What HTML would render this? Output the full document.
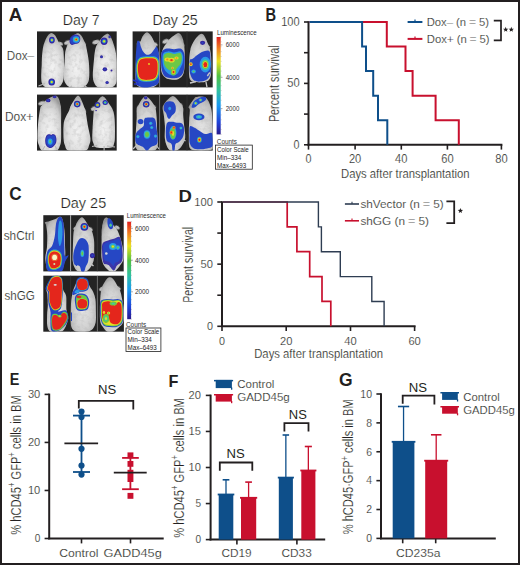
<!DOCTYPE html>
<html><head><meta charset="utf-8"><style>
html,body{margin:0;padding:0;background:#fff;}
#fig{position:relative;width:520px;height:565px;overflow:hidden;background:#fff;}
#fig svg{position:absolute;left:0;top:0;}
#frame{position:absolute;left:0;top:0;width:520px;height:565px;box-sizing:border-box;border:2px solid #231f20;}
text{font-family:"Liberation Sans",sans-serif;}
text.t{stroke:#fff;stroke-width:0.2px;}
</style></head><body>
<div id="fig">
<svg width="520" height="565" viewBox="0 0 520 565">
<defs>
<radialGradient id="mg" cx="50%" cy="64%" r="64%">
<stop offset="0" stop-color="#f2f2f2"/><stop offset="0.5" stop-color="#e3e3e3"/><stop offset="0.8" stop-color="#cbcbcb"/><stop offset="1" stop-color="#9a9a9a"/>
</radialGradient>
<radialGradient id="mg2" cx="50%" cy="60%" r="62%">
<stop offset="0" stop-color="#e4e4e4"/><stop offset="0.55" stop-color="#d2d2d2"/><stop offset="0.85" stop-color="#bcbcbc"/><stop offset="1" stop-color="#929292"/>
</radialGradient>
<filter id="bm" x="-20%" y="-20%" width="140%" height="140%"><feGaussianBlur in="SourceGraphic" stdDeviation="0.55" result="b"/>
<feTurbulence type="fractalNoise" baseFrequency="0.22" numOctaves="3" seed="7" result="n"/>
<feColorMatrix in="n" type="matrix" values="0 0 0 0 0.45  0 0 0 0 0.45  0 0 0 0 0.45  0 0 0 -1.2 0.66" result="na"/>
<feComposite in="na" in2="b" operator="in" result="nm"/>
<feMerge><feMergeNode in="b"/><feMergeNode in="nm"/></feMerge></filter>
<filter id="be" x="-40%" y="-40%" width="180%" height="180%"><feGaussianBlur stdDeviation="0.5"/></filter>
<filter id="bh" x="-30%" y="-30%" width="160%" height="160%"><feGaussianBlur stdDeviation="0.6"/></filter>
<clipPath id="cA1"><rect x="37" y="31.4" width="79.7" height="56"/></clipPath>
<clipPath id="cA2"><rect x="37" y="94.6" width="79.7" height="56"/></clipPath>
<clipPath id="cA3"><rect x="132.6" y="31.4" width="80.1" height="56"/></clipPath>
<clipPath id="cA4"><rect x="132.6" y="94.6" width="80.1" height="56"/></clipPath>
<clipPath id="cC1"><rect x="43.3" y="215.2" width="80.4" height="56.2"/></clipPath>
<clipPath id="cC2"><rect x="43.3" y="275.7" width="80.6" height="56"/></clipPath>
</defs>
<rect x="37" y="31.4" width="79.7" height="56.00000000000001" fill="#232323"/>
<g clip-path="url(#cA1)">
<ellipse cx="60.3" cy="43.8" rx="2.8" ry="1.8" transform="rotate(20 60.3 43.8)" fill="#c2c2c2" filter="url(#be)"/>
<path d="M51.40,33.00 C52.47,33.00 53.75,34.00 54.70,35.00 C55.65,36.00 56.28,37.50 57.10,39.00 C57.92,40.50 58.67,42.50 59.60,44.00 C60.53,45.50 62.02,46.33 62.70,48.00 C63.38,49.67 63.48,51.17 63.70,54.00 C63.92,56.83 64.00,61.03 64.00,65.00 C64.00,68.97 64.08,74.63 63.70,77.80 C63.32,80.97 62.78,82.37 61.70,84.00 C60.62,85.63 59.68,87.00 57.20,87.60 C54.72,88.20 49.28,88.20 46.80,87.60 C44.32,87.00 43.23,85.63 42.30,84.00 C41.37,82.37 41.30,80.97 41.20,77.80 C41.10,74.63 41.57,68.63 41.70,65.00 C41.83,61.37 41.82,58.67 42.00,56.00 C42.18,53.33 42.48,51.00 42.80,49.00 C43.12,47.00 43.38,45.67 43.90,44.00 C44.42,42.33 45.17,40.50 45.90,39.00 C46.63,37.50 47.38,36.00 48.30,35.00 C49.22,34.00 50.33,33.00 51.40,33.00Z" fill="url(#mg)" filter="url(#bm)"/>
<path d="M38.5,86 L45,83.5" stroke="#b8b8b8" stroke-width="1.2" filter="url(#be)"/>
<ellipse cx="67.6" cy="42.6" rx="3.5" ry="2.0" transform="rotate(-20 67.6 42.6)" fill="#c2c2c2" filter="url(#be)"/>
<ellipse cx="83.6" cy="43.8" rx="2.2" ry="1.6" transform="rotate(30 83.6 43.8)" fill="#c2c2c2" filter="url(#be)"/>
<path d="M78.00,33.20 C79.06,33.37 80.33,34.45 81.23,35.50 C82.14,36.55 82.70,38.08 83.43,39.50 C84.15,40.92 85.03,42.42 85.58,44.00 C86.12,45.58 86.16,46.03 86.70,49.00 C87.24,51.97 88.37,57.37 88.80,61.80 C89.23,66.23 89.48,72.07 89.30,75.60 C89.12,79.13 88.88,81.00 87.70,83.00 C86.52,85.00 85.02,86.83 82.20,87.60 C79.38,88.37 73.62,88.37 70.80,87.60 C67.98,86.83 66.50,85.00 65.30,83.00 C64.10,81.00 63.72,79.13 63.60,75.60 C63.48,72.07 64.32,65.73 64.60,61.80 C64.88,57.87 64.85,54.80 65.30,52.00 C65.75,49.20 66.67,46.83 67.32,45.00 C67.97,43.17 68.51,42.25 69.22,41.00 C69.93,39.75 70.63,38.58 71.57,37.50 C72.51,36.42 73.80,35.22 74.87,34.50 C75.94,33.78 76.94,33.03 78.00,33.20Z" fill="url(#mg)" filter="url(#bm)"/>
<path d="M72,86 L69,88 M84,85.5 L88,88" stroke="#b8b8b8" stroke-width="1.1" filter="url(#be)"/>
<ellipse cx="96.0" cy="42.0" rx="3.7" ry="2.1" transform="rotate(-15 96.0 42.0)" fill="#c2c2c2" filter="url(#be)"/>
<path d="M107.80,33.70 C108.69,33.87 109.51,34.95 110.23,36.00 C110.95,37.05 111.47,38.33 112.13,40.00 C112.79,41.67 113.61,44.00 114.20,46.00 C114.80,48.00 115.23,49.37 115.70,52.00 C116.17,54.63 116.77,57.87 117.00,61.80 C117.23,65.73 117.23,72.07 117.10,75.60 C116.97,79.13 117.18,81.00 116.20,83.00 C115.22,85.00 114.10,86.83 111.20,87.60 C108.30,88.37 101.62,88.37 98.80,87.60 C95.98,86.83 95.30,85.00 94.30,83.00 C93.30,81.00 92.88,79.13 92.80,75.60 C92.72,72.07 93.47,65.73 93.80,61.80 C94.13,57.87 94.38,54.63 94.80,52.00 C95.22,49.37 95.56,47.75 96.30,46.00 C97.04,44.25 98.34,42.83 99.22,41.50 C100.10,40.17 100.63,39.08 101.57,38.00 C102.51,36.92 103.83,35.72 104.87,35.00 C105.91,34.28 106.91,33.53 107.80,33.70Z" fill="url(#mg)" filter="url(#bm)"/>
<ellipse cx="51.9" cy="40.1" rx="2.90" ry="3.40" fill="#34289e" filter="url(#bh)"/>
<ellipse cx="51.9" cy="40.1" rx="1.92" ry="2.25" fill="#2846c4" filter="url(#bh)"/>
<ellipse cx="51.9" cy="40.1" rx="1.46" ry="1.72" fill="#2a9ae6" filter="url(#bh)"/>
<ellipse cx="51.9" cy="40.1" rx="1.10" ry="1.29" fill="#6cc844" filter="url(#bh)"/>
<ellipse cx="51.9" cy="40.1" rx="0.80" ry="0.93" fill="#e6dc28" filter="url(#bh)"/>
<ellipse cx="51.7" cy="82.0" rx="3.30" ry="3.60" fill="#34289e" filter="url(#bh)"/>
<ellipse cx="51.7" cy="82.0" rx="2.18" ry="2.38" fill="#2846c4" filter="url(#bh)"/>
<ellipse cx="51.7" cy="82.0" rx="1.67" ry="1.82" fill="#2a9ae6" filter="url(#bh)"/>
<ellipse cx="51.7" cy="82.0" rx="1.26" ry="1.37" fill="#6cc844" filter="url(#bh)"/>
<ellipse cx="51.7" cy="82.0" rx="0.91" ry="0.99" fill="#e6dc28" filter="url(#bh)"/>
<path d="M72.00,35.80 C73.05,35.07 74.75,34.53 76.00,34.60 C77.25,34.67 78.80,35.30 79.50,36.20 C80.20,37.10 80.37,38.87 80.20,40.00 C80.03,41.13 79.37,42.33 78.50,43.00 C77.63,43.67 76.08,43.68 75.00,44.00 C73.92,44.32 72.85,45.07 72.00,44.90 C71.15,44.73 70.28,43.98 69.90,43.00 C69.52,42.02 69.35,40.20 69.70,39.00 C70.05,37.80 70.95,36.53 72.00,35.80Z" fill="#34289e" filter="url(#bh)" />
<path d="M72.40,36.40 C73.33,35.78 74.90,35.23 76.00,35.30 C77.10,35.37 78.42,36.02 79.00,36.80 C79.58,37.58 79.67,39.05 79.50,40.00 C79.33,40.95 78.75,41.95 78.00,42.50 C77.25,43.05 75.95,43.03 75.00,43.30 C74.05,43.57 73.05,44.22 72.30,44.10 C71.55,43.98 70.82,43.45 70.50,42.60 C70.18,41.75 70.08,40.03 70.40,39.00 C70.72,37.97 71.47,37.02 72.40,36.40Z" fill="#2846c4" filter="url(#bh)" />
<ellipse cx="76.2" cy="39.5" rx="3.40" ry="3.20" fill="#2a9ae6" filter="url(#bh)"/>
<ellipse cx="76.2" cy="39.5" rx="2.25" ry="2.12" fill="#40c4b0" filter="url(#bh)"/>
<ellipse cx="76.2" cy="39.5" rx="1.72" ry="1.61" fill="#6cc844" filter="url(#bh)"/>
<ellipse cx="76.2" cy="39.5" rx="1.29" ry="1.22" fill="#e6dc28" filter="url(#bh)"/>
<ellipse cx="76.2" cy="39.5" rx="0.93" ry="0.88" fill="#e4261e" filter="url(#bh)"/>
<ellipse cx="104.1" cy="41.3" rx="3.50" ry="3.70" fill="#34289e" filter="url(#bh)"/>
<ellipse cx="104.1" cy="41.3" rx="2.32" ry="2.45" fill="#2846c4" filter="url(#bh)"/>
<ellipse cx="104.1" cy="41.3" rx="1.77" ry="1.87" fill="#2a9ae6" filter="url(#bh)"/>
<ellipse cx="104.1" cy="41.3" rx="1.33" ry="1.41" fill="#6cc844" filter="url(#bh)"/>
<ellipse cx="104.1" cy="41.3" rx="0.96" ry="1.02" fill="#e6dc28" filter="url(#bh)"/>
<ellipse cx="109.6" cy="36.9" rx="1.20" ry="1.30" fill="#34289e" filter="url(#bh)"/>
<ellipse cx="109.6" cy="36.9" rx="0.53" ry="0.57" fill="#2846c4" filter="url(#bh)"/>
<ellipse cx="101.5" cy="56.8" rx="1.50" ry="1.50" fill="#34289e" filter="url(#bh)"/>
<ellipse cx="101.5" cy="56.8" rx="0.66" ry="0.66" fill="#2846c4" filter="url(#bh)"/>
<ellipse cx="104.9" cy="69.3" rx="2.30" ry="2.10" fill="#34289e" filter="url(#bh)"/>
<ellipse cx="104.9" cy="69.3" rx="1.01" ry="0.92" fill="#2846c4" filter="url(#bh)"/>
<ellipse cx="111.5" cy="70.6" rx="1.00" ry="1.00" fill="#34289e" filter="url(#bh)"/>
<ellipse cx="107.1" cy="82.5" rx="1.70" ry="1.60" fill="#34289e" filter="url(#bh)"/>
<ellipse cx="107.1" cy="82.5" rx="0.75" ry="0.70" fill="#2846c4" filter="url(#bh)"/>
</g>
<rect x="37" y="94.6" width="79.7" height="56.0" fill="#232323"/>
<g clip-path="url(#cA2)">
<ellipse cx="41.8" cy="103.2" rx="3.5" ry="1.9" transform="rotate(-15 41.8 103.2)" fill="#c2c2c2" filter="url(#be)"/>
<path d="M56.20,95.70 C57.07,95.90 57.63,96.70 58.18,97.50 C58.73,98.30 59.12,99.42 59.48,100.50 C59.84,101.58 60.06,102.60 60.33,104.00 C60.60,105.40 60.97,105.43 61.10,108.90 C61.23,112.37 61.10,119.85 61.10,124.80 C61.10,129.75 61.25,135.23 61.10,138.60 C60.95,141.97 61.02,142.97 60.20,145.00 C59.38,147.03 59.10,149.83 56.20,150.80 C53.30,151.77 45.70,151.77 42.80,150.80 C39.90,149.83 39.68,147.03 38.80,145.00 C37.92,142.97 37.63,141.97 37.50,138.60 C37.37,135.23 37.57,129.75 38.00,124.80 C38.43,119.85 39.42,112.20 40.10,108.90 C40.78,105.60 41.24,106.32 42.07,105.00 C42.90,103.68 43.96,102.08 45.07,101.00 C46.18,99.92 47.41,99.28 48.72,98.50 C50.03,97.72 51.69,96.77 52.94,96.30 C54.19,95.83 55.33,95.50 56.20,95.70Z" fill="url(#mg)" filter="url(#bm)"/>
<path d="M45,146 L42,151 M55,146 L58,151" stroke="#b8b8b8" stroke-width="1.1" filter="url(#be)"/>
<ellipse cx="84.0" cy="111.0" rx="2.5" ry="1.6" transform="rotate(45 84.0 111.0)" fill="#c2c2c2" filter="url(#be)"/>
<path d="M78.00,95.70 C78.73,95.70 79.43,96.35 80.18,97.50 C80.93,98.65 81.83,101.02 82.49,102.60 C83.15,104.18 83.61,105.60 84.13,107.00 C84.65,108.40 85.01,108.03 85.60,111.00 C86.20,113.97 86.90,120.20 87.70,124.80 C88.50,129.40 90.15,135.23 90.40,138.60 C90.65,141.97 90.07,142.97 89.20,145.00 C88.33,147.03 88.60,149.83 85.20,150.80 C81.80,151.77 72.20,151.77 68.80,150.80 C65.40,149.83 65.67,147.03 64.80,145.00 C63.93,142.97 63.80,141.97 63.60,138.60 C63.40,135.23 63.32,128.23 63.60,124.80 C63.88,121.37 64.42,120.30 65.30,118.00 C66.18,115.70 68.05,112.92 68.90,111.00 C69.75,109.08 69.80,107.90 70.42,106.50 C71.04,105.10 71.71,104.10 72.61,102.60 C73.51,101.10 74.92,98.65 75.82,97.50 C76.72,96.35 77.27,95.70 78.00,95.70Z" fill="url(#mg)" filter="url(#bm)"/>
<ellipse cx="94.0" cy="108.6" rx="3.2" ry="2.0" transform="rotate(-25 94.0 108.6)" fill="#c2c2c2" filter="url(#be)"/>
<path d="M102.50,96.20 C103.21,96.20 103.89,96.78 104.63,97.50 C105.37,98.22 106.16,99.42 106.93,100.50 C107.71,101.58 108.40,102.67 109.28,104.00 C110.16,105.33 111.38,106.67 112.20,108.50 C113.02,110.33 113.75,112.28 114.20,115.00 C114.65,117.72 114.78,121.03 114.90,124.80 C115.02,128.57 115.02,134.57 114.90,137.60 C114.78,140.63 114.82,141.35 114.20,143.00 C113.58,144.65 114.10,146.75 111.20,147.50 C108.30,148.25 99.78,148.25 96.80,147.50 C93.82,146.75 94.05,144.65 93.30,143.00 C92.55,141.35 92.38,140.63 92.30,137.60 C92.22,134.57 92.58,128.90 92.80,124.80 C93.02,120.70 93.33,115.80 93.60,113.00 C93.87,110.20 94.02,109.50 94.42,108.00 C94.82,106.50 95.41,105.25 96.02,104.00 C96.63,102.75 97.34,101.58 98.07,100.50 C98.79,99.42 99.63,98.22 100.37,97.50 C101.11,96.78 101.79,96.20 102.50,96.20Z" fill="url(#mg)" filter="url(#bm)"/>
<path d="M104.1,146 L104.1,151 M92,146.5 L97,145.5 M107,146 L115,147" stroke="#b8b8b8" stroke-width="1.1" filter="url(#bm)"/>
<ellipse cx="48.2" cy="100.4" rx="2.30" ry="1.90" fill="#34289e" filter="url(#bh)"/>
<ellipse cx="48.2" cy="100.4" rx="1.01" ry="0.84" fill="#2846c4" filter="url(#bh)"/>
<ellipse cx="54.6" cy="96.8" rx="2.00" ry="1.40" fill="#34289e" filter="url(#bh)"/>
<ellipse cx="54.6" cy="96.8" rx="0.88" ry="0.62" fill="#2846c4" filter="url(#bh)"/>
<path d="M46.50,135.50 C47.13,134.53 48.17,134.32 49.00,134.20 C49.83,134.08 50.83,134.83 51.50,134.80 C52.17,134.77 52.33,133.88 53.00,134.00 C53.67,134.12 54.93,134.50 55.50,135.50 C56.07,136.50 56.40,138.58 56.40,140.00 C56.40,141.42 56.23,142.73 55.50,144.00 C54.77,145.27 53.08,146.97 52.00,147.60 C50.92,148.23 50.00,148.23 49.00,147.80 C48.00,147.37 46.63,146.30 46.00,145.00 C45.37,143.70 45.12,141.58 45.20,140.00 C45.28,138.42 45.87,136.47 46.50,135.50Z" fill="#34289e" filter="url(#bh)" />
<path d="M47.20,136.20 C47.70,135.40 48.28,135.28 49.00,135.20 C49.72,135.12 50.83,135.73 51.50,135.70 C52.17,135.67 52.42,134.90 53.00,135.00 C53.58,135.10 54.57,135.47 55.00,136.30 C55.43,137.13 55.63,138.78 55.60,140.00 C55.57,141.22 55.43,142.48 54.80,143.60 C54.17,144.72 52.72,146.15 51.80,146.70 C50.88,147.25 50.13,147.27 49.30,146.90 C48.47,146.53 47.35,145.65 46.80,144.50 C46.25,143.35 45.93,141.38 46.00,140.00 C46.07,138.62 46.70,137.00 47.20,136.20Z" fill="#2846c4" filter="url(#bh)" />
<ellipse cx="50.2" cy="141.6" rx="2.40" ry="3.20" fill="#2a9ae6" filter="url(#bh)"/>
<ellipse cx="50.2" cy="141.6" rx="1.32" ry="1.77" fill="#40c4b0" filter="url(#bh)"/>
<ellipse cx="50.2" cy="141.6" rx="0.83" ry="1.10" fill="#6cc844" filter="url(#bh)"/>
<ellipse cx="77.2" cy="104.1" rx="3.30" ry="3.30" fill="#34289e" filter="url(#bh)"/>
<ellipse cx="77.2" cy="104.1" rx="2.37" ry="2.37" fill="#2846c4" filter="url(#bh)"/>
<ellipse cx="77.2" cy="104.1" rx="1.94" ry="1.94" fill="#2a9ae6" filter="url(#bh)"/>
<ellipse cx="77.2" cy="104.1" rx="1.60" ry="1.60" fill="#40c4b0" filter="url(#bh)"/>
<ellipse cx="77.2" cy="104.1" rx="1.31" ry="1.31" fill="#e6dc28" filter="url(#bh)"/>
<ellipse cx="77.2" cy="104.1" rx="1.05" ry="1.05" fill="#ee8a24" filter="url(#bh)"/>
<ellipse cx="77.2" cy="104.1" rx="0.81" ry="0.81" fill="#e4261e" filter="url(#bh)"/>
<ellipse cx="97.5" cy="105.0" rx="2.90" ry="2.90" fill="#34289e" filter="url(#bh)"/>
<ellipse cx="97.5" cy="105.0" rx="2.01" ry="2.01" fill="#2846c4" filter="url(#bh)"/>
<ellipse cx="97.5" cy="105.0" rx="1.60" ry="1.60" fill="#2a9ae6" filter="url(#bh)"/>
<ellipse cx="97.5" cy="105.0" rx="1.28" ry="1.28" fill="#6cc844" filter="url(#bh)"/>
<ellipse cx="97.5" cy="105.0" rx="1.00" ry="1.00" fill="#e6dc28" filter="url(#bh)"/>
<ellipse cx="97.5" cy="105.0" rx="0.75" ry="0.75" fill="#ee8a24" filter="url(#bh)"/>
<ellipse cx="105.2" cy="102.6" rx="2.70" ry="2.50" fill="#34289e" filter="url(#bh)"/>
<ellipse cx="105.2" cy="102.6" rx="1.79" ry="1.65" fill="#2846c4" filter="url(#bh)"/>
<ellipse cx="105.2" cy="102.6" rx="1.36" ry="1.26" fill="#2a9ae6" filter="url(#bh)"/>
<ellipse cx="105.2" cy="102.6" rx="1.03" ry="0.95" fill="#40c4b0" filter="url(#bh)"/>
<ellipse cx="105.2" cy="102.6" rx="0.74" ry="0.69" fill="#6cc844" filter="url(#bh)"/>
<ellipse cx="96.1" cy="110.6" rx="0.90" ry="0.70" fill="#34289e" filter="url(#bh)"/>
</g>
<rect x="132.6" y="31.4" width="80.1" height="56.00000000000001" fill="#232323"/>
<g clip-path="url(#cA3)">
<ellipse cx="155.0" cy="44.3" rx="2.8" ry="1.8" transform="rotate(25 155.0 44.3)" fill="#c2c2c2" filter="url(#be)"/>
<ellipse cx="139.4" cy="43.4" rx="2.6" ry="1.8" transform="rotate(-25 139.4 43.4)" fill="#c2c2c2" filter="url(#be)"/>
<path d="M147.00,32.30 C148.04,32.30 149.15,33.38 150.13,34.50 C151.11,35.62 152.05,37.42 152.89,39.00 C153.73,40.58 154.46,42.33 155.18,44.00 C155.90,45.67 156.53,47.00 157.20,49.00 C157.87,51.00 158.78,52.50 159.20,56.00 C159.62,59.50 159.70,66.00 159.70,70.00 C159.70,74.00 159.70,77.50 159.20,80.00 C158.70,82.50 158.12,83.67 156.70,85.00 C155.28,86.33 153.10,87.50 150.70,88.00 C148.30,88.50 144.62,88.50 142.30,88.00 C139.98,87.50 137.92,86.33 136.80,85.00 C135.68,83.67 135.80,82.50 135.60,80.00 C135.40,77.50 135.48,74.00 135.60,70.00 C135.72,66.00 135.85,59.50 136.30,56.00 C136.75,52.50 137.71,51.00 138.30,49.00 C138.89,47.00 139.30,45.67 139.82,44.00 C140.34,42.33 140.73,40.58 141.41,39.00 C142.08,37.42 142.94,35.62 143.87,34.50 C144.80,33.38 145.96,32.30 147.00,32.30Z" fill="url(#mg2)" filter="url(#bm)"/>
<path d="M137.40,41.00 C137.97,39.67 139.00,41.00 139.60,42.00 C140.20,43.00 140.35,45.33 141.00,47.00 C141.65,48.67 142.50,50.70 143.50,52.00 C144.50,53.30 145.75,54.55 147.00,54.80 C148.25,55.05 149.75,54.47 151.00,53.50 C152.25,52.53 153.57,50.17 154.50,49.00 C155.43,47.83 155.92,46.00 156.60,46.50 C157.28,47.00 158.15,49.42 158.60,52.00 C159.05,54.58 159.20,58.67 159.30,62.00 C159.40,65.33 159.33,68.50 159.20,72.00 C159.07,75.50 159.70,80.58 158.50,83.00 C157.30,85.42 154.08,85.67 152.00,86.50 C149.92,87.33 148.00,88.00 146.00,88.00 C144.00,88.00 141.67,87.50 140.00,86.50 C138.33,85.50 136.73,86.08 136.00,82.00 C135.27,77.92 135.57,67.33 135.60,62.00 C135.63,56.67 135.90,53.50 136.20,50.00 C136.50,46.50 136.83,42.33 137.40,41.00Z" fill="#2846c4" filter="url(#bh)" />
<path d="M137.04,61.44 C137.57,59.87 138.22,58.71 139.28,57.90 C140.34,57.10 141.54,56.86 143.41,56.61 C145.28,56.35 148.37,56.29 150.49,56.37 C152.62,56.45 154.74,56.33 156.16,57.08 C157.57,57.83 158.44,59.05 158.99,60.85 C159.54,62.66 159.50,65.57 159.46,67.93 C159.42,70.29 159.36,72.99 158.75,75.01 C158.14,77.04 157.37,78.95 155.80,80.09 C154.23,81.23 151.57,81.60 149.31,81.86 C147.05,82.11 144.08,82.07 142.23,81.62 C140.38,81.17 139.16,80.44 138.22,79.14 C137.28,77.85 136.92,75.80 136.57,73.83 C136.21,71.87 136.02,69.41 136.10,67.34 C136.17,65.28 136.51,63.02 137.04,61.44Z" fill="#2a9ae6" filter="url(#bh)" />
<path d="M137.56,61.80 C138.06,60.30 138.68,59.20 139.69,58.44 C140.70,57.67 141.83,57.45 143.61,57.20 C145.38,56.96 148.31,56.91 150.33,56.98 C152.34,57.05 154.36,56.94 155.70,57.65 C157.05,58.36 157.87,59.52 158.39,61.24 C158.91,62.95 158.88,65.72 158.84,67.96 C158.80,70.20 158.75,72.75 158.17,74.68 C157.59,76.60 156.86,78.41 155.37,79.49 C153.87,80.57 151.35,80.93 149.21,81.17 C147.06,81.41 144.24,81.38 142.49,80.95 C140.73,80.52 139.58,79.83 138.68,78.60 C137.78,77.36 137.45,75.42 137.11,73.56 C136.78,71.69 136.59,69.36 136.66,67.40 C136.74,65.44 137.06,63.29 137.56,61.80Z" fill="#6cc844" filter="url(#bh)" />
<path d="M138.08,62.15 C138.56,60.73 139.14,59.69 140.09,58.97 C141.05,58.24 142.13,58.03 143.80,57.80 C145.48,57.57 148.26,57.52 150.16,57.59 C152.07,57.66 153.98,57.55 155.25,58.23 C156.52,58.90 157.30,59.99 157.80,61.62 C158.29,63.24 158.26,65.86 158.22,67.98 C158.18,70.10 158.13,72.52 157.58,74.34 C157.04,76.16 156.35,77.87 154.93,78.90 C153.52,79.92 151.14,80.26 149.10,80.49 C147.07,80.72 144.40,80.68 142.74,80.27 C141.08,79.87 139.99,79.21 139.14,78.05 C138.29,76.88 137.97,75.04 137.66,73.28 C137.34,71.51 137.16,69.30 137.23,67.45 C137.30,65.59 137.60,63.56 138.08,62.15Z" fill="#e6dc28" filter="url(#bh)" />
<path d="M138.60,62.50 C139.05,61.17 139.60,60.18 140.50,59.50 C141.40,58.82 142.42,58.62 144.00,58.40 C145.58,58.18 148.20,58.13 150.00,58.20 C151.80,58.27 153.60,58.17 154.80,58.80 C156.00,59.43 156.73,60.47 157.20,62.00 C157.67,63.53 157.63,66.00 157.60,68.00 C157.57,70.00 157.52,72.28 157.00,74.00 C156.48,75.72 155.83,77.33 154.50,78.30 C153.17,79.27 150.92,79.58 149.00,79.80 C147.08,80.02 144.57,79.98 143.00,79.60 C141.43,79.22 140.40,78.60 139.60,77.50 C138.80,76.40 138.50,74.67 138.20,73.00 C137.90,71.33 137.73,69.25 137.80,67.50 C137.87,65.75 138.15,63.83 138.60,62.50Z" fill="#e4261e" filter="url(#bh)" />
<ellipse cx="149.0" cy="64.0" rx="0.90" ry="0.90" fill="#e6dc28" filter="url(#bh)"/>
<path d="M133,80 L138,82 M134,84 L139,84" stroke="#2030c0" stroke-width="1.6" filter="url(#bh)"/>
<ellipse cx="165.6" cy="41.2" rx="3.3" ry="2.0" transform="rotate(-25 165.6 41.2)" fill="#c2c2c2" filter="url(#be)"/>
<ellipse cx="182.6" cy="44.8" rx="2.0" ry="1.4" transform="rotate(40 182.6 44.8)" fill="#c2c2c2" filter="url(#be)"/>
<path d="M178.50,33.00 C179.43,33.08 180.30,34.00 181.03,35.00 C181.77,36.00 182.41,37.50 182.90,39.00 C183.39,40.50 183.70,42.17 183.98,44.00 C184.27,45.83 184.46,47.33 184.60,50.00 C184.74,52.67 184.87,56.67 184.80,60.00 C184.73,63.33 184.63,67.33 184.20,70.00 C183.77,72.67 183.37,74.42 182.20,76.00 C181.03,77.58 179.10,78.92 177.20,79.50 C175.30,80.08 172.70,79.75 170.80,79.50 C168.90,79.25 167.30,79.08 165.80,78.00 C164.30,76.92 162.63,75.17 161.80,73.00 C160.97,70.83 160.90,68.00 160.80,65.00 C160.70,62.00 160.78,57.83 161.20,55.00 C161.62,52.17 162.45,49.92 163.30,48.00 C164.15,46.08 165.43,44.83 166.32,43.50 C167.22,42.17 167.75,41.08 168.68,40.00 C169.62,38.92 170.80,37.92 171.93,37.00 C173.07,36.08 174.38,35.17 175.47,34.50 C176.57,33.83 177.57,32.92 178.50,33.00Z" fill="url(#mg2)" filter="url(#bm)"/>
<path d="M172.3,78 L172.3,88" stroke="#c8c8c8" stroke-width="1.6" filter="url(#bm)"/>
<path d="M162.00,51.50 C163.00,49.60 165.00,48.98 167.00,48.60 C169.00,48.22 171.67,49.17 174.00,49.20 C176.33,49.23 179.28,48.00 181.00,48.80 C182.72,49.60 183.70,51.47 184.30,54.00 C184.90,56.53 184.82,60.83 184.60,64.00 C184.38,67.17 184.02,70.73 183.00,73.00 C181.98,75.27 180.33,76.73 178.50,77.60 C176.67,78.47 174.25,78.38 172.00,78.20 C169.75,78.02 166.70,77.87 165.00,76.50 C163.30,75.13 162.47,72.75 161.80,70.00 C161.13,67.25 160.97,63.08 161.00,60.00 C161.03,56.92 161.00,53.40 162.00,51.50Z" fill="#2846c4" filter="url(#bh)" />
<path d="M163.00,54.00 C163.87,51.90 166.17,51.63 168.00,51.40 C169.83,51.17 171.92,52.60 174.00,52.60 C176.08,52.60 179.00,50.83 180.50,51.40 C182.00,51.97 182.65,54.07 183.00,56.00 C183.35,57.93 183.10,60.92 182.60,63.00 C182.10,65.08 180.93,66.67 180.00,68.50 C179.07,70.33 178.50,72.92 177.00,74.00 C175.50,75.08 172.92,75.50 171.00,75.00 C169.08,74.50 166.87,72.83 165.50,71.00 C164.13,69.17 163.22,66.83 162.80,64.00 C162.38,61.17 162.13,56.10 163.00,54.00Z" fill="#2a9ae6" filter="url(#bh)" />
<path d="M164.00,55.00 C164.78,53.63 166.83,52.97 168.50,52.80 C170.17,52.63 172.08,53.97 174.00,54.00 C175.92,54.03 178.70,52.50 180.00,53.00 C181.30,53.50 181.63,55.33 181.80,57.00 C181.97,58.67 181.63,61.33 181.00,63.00 C180.37,64.67 179.08,65.75 178.00,67.00 C176.92,68.25 176.00,70.00 174.50,70.50 C173.00,71.00 170.58,70.75 169.00,70.00 C167.42,69.25 165.87,67.50 165.00,66.00 C164.13,64.50 163.97,62.83 163.80,61.00 C163.63,59.17 163.22,56.37 164.00,55.00Z" fill="#6cc844" filter="url(#bh)" />
<ellipse cx="167.5" cy="59.5" rx="3.00" ry="2.00" fill="#e6dc28" filter="url(#bh)"/>
<ellipse cx="167.5" cy="59.5" rx="1.32" ry="0.88" fill="#ee8a24" filter="url(#bh)"/>
<ellipse cx="171.5" cy="60.2" rx="3.20" ry="2.40" fill="#e6dc28" filter="url(#bh)"/>
<ellipse cx="171.5" cy="60.2" rx="1.77" ry="1.32" fill="#ee8a24" filter="url(#bh)"/>
<ellipse cx="171.5" cy="60.2" rx="1.10" ry="0.83" fill="#e4261e" filter="url(#bh)"/>
<ellipse cx="176.5" cy="58.0" rx="2.20" ry="1.60" fill="#e6dc28" filter="url(#bh)"/>
<ellipse cx="176.5" cy="58.0" rx="0.97" ry="0.70" fill="#ee8a24" filter="url(#bh)"/>
<ellipse cx="173.5" cy="72.0" rx="2.80" ry="3.40" fill="#6cc844" filter="url(#bh)"/>
<ellipse cx="173.5" cy="72.0" rx="1.73" ry="2.10" fill="#e6dc28" filter="url(#bh)"/>
<ellipse cx="173.5" cy="72.0" rx="1.23" ry="1.50" fill="#ee8a24" filter="url(#bh)"/>
<ellipse cx="173.5" cy="72.0" rx="0.84" ry="1.02" fill="#e4261e" filter="url(#bh)"/>
<ellipse cx="172.5" cy="68.0" rx="1.20" ry="1.20" fill="#e6dc28" filter="url(#bh)"/>
<ellipse cx="172.5" cy="68.0" rx="0.53" ry="0.53" fill="#e4261e" filter="url(#bh)"/>
<ellipse cx="207.6" cy="46.5" rx="2.5" ry="1.7" transform="rotate(35 207.6 46.5)" fill="#c2c2c2" filter="url(#be)"/>
<path d="M201.60,33.70 C202.55,33.70 203.31,34.45 204.10,35.50 C204.90,36.55 205.64,38.42 206.37,40.00 C207.09,41.58 207.82,43.33 208.46,45.00 C209.10,46.67 209.74,47.83 210.20,50.00 C210.66,52.17 211.03,54.33 211.20,58.00 C211.37,61.67 211.45,68.50 211.20,72.00 C210.95,75.50 210.78,77.33 209.70,79.00 C208.62,80.67 207.27,81.50 204.70,82.00 C202.13,82.50 196.78,82.50 194.30,82.00 C191.82,81.50 190.70,81.00 189.80,79.00 C188.90,77.00 188.98,73.50 188.90,70.00 C188.82,66.50 189.07,61.33 189.30,58.00 C189.53,54.67 189.88,52.17 190.30,50.00 C190.72,47.83 191.12,46.67 191.84,45.00 C192.56,43.33 193.54,41.58 194.63,40.00 C195.72,38.42 197.23,36.55 198.40,35.50 C199.56,34.45 200.65,33.70 201.60,33.70Z" fill="url(#mg2)" filter="url(#bm)"/>
<path d="M189.90,60.00 C190.47,58.75 191.65,59.42 193.00,58.50 C194.35,57.58 196.17,55.70 198.00,54.50 C199.83,53.30 202.08,51.85 204.00,51.30 C205.92,50.75 208.40,49.75 209.50,51.20 C210.60,52.65 210.38,56.53 210.60,60.00 C210.82,63.47 211.32,68.83 210.80,72.00 C210.28,75.17 209.13,77.42 207.50,79.00 C205.87,80.58 203.25,81.25 201.00,81.50 C198.75,81.75 195.80,81.75 194.00,80.50 C192.20,79.25 190.93,76.42 190.20,74.00 C189.47,71.58 189.65,68.33 189.60,66.00 C189.55,63.67 189.33,61.25 189.90,60.00Z" fill="#2846c4" filter="url(#bh)" />
<ellipse cx="202.6" cy="42.8" rx="2.60" ry="2.10" fill="#34289e" filter="url(#bh)"/>
<ellipse cx="202.6" cy="42.8" rx="1.14" ry="0.92" fill="#2846c4" filter="url(#bh)"/>
<ellipse cx="205.3" cy="64.6" rx="5.60" ry="7.80" fill="#2a9ae6" filter="url(#bh)"/>
<ellipse cx="205.3" cy="64.6" rx="3.89" ry="5.41" fill="#40c4b0" filter="url(#bh)"/>
<ellipse cx="205.3" cy="64.6" rx="3.09" ry="4.30" fill="#6cc844" filter="url(#bh)"/>
<ellipse cx="205.3" cy="64.6" rx="2.46" ry="3.43" fill="#e6dc28" filter="url(#bh)"/>
<ellipse cx="205.3" cy="64.6" rx="1.93" ry="2.68" fill="#e4261e" filter="url(#bh)"/>
<ellipse cx="205.3" cy="64.6" rx="1.45" ry="2.01" fill="#e4261e" filter="url(#bh)"/>
<ellipse cx="190.9" cy="64.2" rx="1.70" ry="2.00" fill="#e6dc28" filter="url(#bh)"/>
<ellipse cx="190.9" cy="64.2" rx="0.94" ry="1.10" fill="#ee8a24" filter="url(#bh)"/>
<ellipse cx="190.9" cy="64.2" rx="0.58" ry="0.69" fill="#e4261e" filter="url(#bh)"/>
<ellipse cx="193.6" cy="71.5" rx="2.30" ry="2.00" fill="#2a9ae6" filter="url(#bh)"/>
<ellipse cx="193.6" cy="71.5" rx="1.27" ry="1.10" fill="#40c4b0" filter="url(#bh)"/>
<ellipse cx="193.6" cy="71.5" rx="0.79" ry="0.69" fill="#6cc844" filter="url(#bh)"/>
<path d="M190,83 L196,81.5 M207.3,76 L209.8,72.5 M206,82 L207,87.4" stroke="#c8c8c8" stroke-width="1.3" filter="url(#bm)"/>
</g>
<line x1="159.6" y1="31.4" x2="159.6" y2="87.4" stroke="#9a9a9a" stroke-width="0.7"/>
<line x1="187.0" y1="31.4" x2="187.0" y2="87.4" stroke="#3a3a3a" stroke-width="0.6"/>
<rect x="132.6" y="94.6" width="80.1" height="56.0" fill="#232323"/>
<g clip-path="url(#cA4)">
<ellipse cx="139.2" cy="107.2" rx="2.5" ry="1.7" transform="rotate(-30 139.2 107.2)" fill="#c2c2c2" filter="url(#be)"/>
<ellipse cx="153.6" cy="107.0" rx="2.5" ry="1.7" transform="rotate(30 153.6 107.0)" fill="#c2c2c2" filter="url(#be)"/>
<path d="M145.70,96.00 C146.48,96.00 147.16,96.67 148.09,97.50 C149.02,98.33 150.30,99.75 151.29,101.00 C152.28,102.25 153.29,103.67 154.03,105.00 C154.76,106.33 155.25,106.83 155.70,109.00 C156.15,111.17 156.45,114.17 156.70,118.00 C156.95,121.83 157.00,127.50 157.20,132.00 C157.40,136.50 158.48,141.87 157.90,145.00 C157.32,148.13 156.80,149.83 153.70,150.80 C150.60,151.77 142.37,151.77 139.30,150.80 C136.23,149.83 135.88,148.13 135.30,145.00 C134.72,141.87 135.57,136.50 135.80,132.00 C136.03,127.50 136.55,121.83 136.70,118.00 C136.85,114.17 136.40,111.17 136.70,109.00 C137.00,106.83 137.81,106.33 138.47,105.00 C139.14,103.67 139.89,102.25 140.71,101.00 C141.53,99.75 142.58,98.33 143.41,97.50 C144.24,96.67 144.92,96.00 145.70,96.00Z" fill="url(#mg2)" filter="url(#bm)"/>
<path d="M137,145 L133,149 M156,145 L159,149" stroke="#c0c0c0" stroke-width="1.2" filter="url(#be)"/>
<path d="M145.00,118.20 C146.00,117.63 148.33,117.47 150.00,117.60 C151.67,117.73 153.92,117.27 155.00,119.00 C156.08,120.73 156.08,125.00 156.50,128.00 C156.92,131.00 157.42,134.33 157.50,137.00 C157.58,139.67 158.08,142.33 157.00,144.00 C155.92,145.67 152.67,145.87 151.00,147.00 C149.33,148.13 148.33,150.80 147.00,150.80 C145.67,150.80 144.83,148.30 143.00,147.00 C141.17,145.70 137.20,145.17 136.00,143.00 C134.80,140.83 135.13,136.33 135.80,134.00 C136.47,131.67 138.70,130.33 140.00,129.00 C141.30,127.67 142.93,127.33 143.60,126.00 C144.27,124.67 143.77,122.30 144.00,121.00 C144.23,119.70 144.00,118.77 145.00,118.20Z" fill="#2846c4" filter="url(#bh)" />
<ellipse cx="140.6" cy="121.6" rx="2.90" ry="2.70" fill="#2846c4" filter="url(#bh)"/>
<ellipse cx="147.0" cy="134.5" rx="5.00" ry="6.40" fill="#2846c4" filter="url(#bh)"/>
<ellipse cx="147.0" cy="134.5" rx="3.31" ry="4.23" fill="#2a9ae6" filter="url(#bh)"/>
<ellipse cx="147.0" cy="134.5" rx="2.52" ry="3.23" fill="#40c4b0" filter="url(#bh)"/>
<ellipse cx="147.0" cy="134.5" rx="1.90" ry="2.44" fill="#6cc844" filter="url(#bh)"/>
<ellipse cx="147.0" cy="134.5" rx="1.37" ry="1.76" fill="#6cc844" filter="url(#bh)"/>
<ellipse cx="150.7" cy="123.3" rx="1.60" ry="1.60" fill="#2a9ae6" filter="url(#bh)"/>
<ellipse cx="150.7" cy="123.3" rx="0.70" ry="0.70" fill="#40c4b0" filter="url(#bh)"/>
<ellipse cx="151.7" cy="127.6" rx="1.50" ry="1.50" fill="#2a9ae6" filter="url(#bh)"/>
<ellipse cx="151.7" cy="127.6" rx="0.66" ry="0.66" fill="#40c4b0" filter="url(#bh)"/>
<ellipse cx="137.9" cy="136.6" rx="1.60" ry="1.60" fill="#2a9ae6" filter="url(#bh)"/>
<ellipse cx="137.9" cy="136.6" rx="0.70" ry="0.70" fill="#40c4b0" filter="url(#bh)"/>
<ellipse cx="155.5" cy="136.1" rx="1.60" ry="1.60" fill="#2a9ae6" filter="url(#bh)"/>
<ellipse cx="155.5" cy="136.1" rx="0.70" ry="0.70" fill="#40c4b0" filter="url(#bh)"/>
<ellipse cx="145.7" cy="97.8" rx="1.80" ry="1.60" fill="#34289e" filter="url(#bh)"/>
<ellipse cx="145.7" cy="97.8" rx="0.79" ry="0.70" fill="#2846c4" filter="url(#bh)"/>
<ellipse cx="146.2" cy="104.2" rx="3.30" ry="3.30" fill="#34289e" filter="url(#bh)"/>
<ellipse cx="146.2" cy="104.2" rx="2.29" ry="2.29" fill="#2846c4" filter="url(#bh)"/>
<ellipse cx="146.2" cy="104.2" rx="1.82" ry="1.82" fill="#2a9ae6" filter="url(#bh)"/>
<ellipse cx="146.2" cy="104.2" rx="1.45" ry="1.45" fill="#e6dc28" filter="url(#bh)"/>
<ellipse cx="146.2" cy="104.2" rx="1.13" ry="1.13" fill="#ee8a24" filter="url(#bh)"/>
<ellipse cx="146.2" cy="104.2" rx="0.85" ry="0.85" fill="#e4261e" filter="url(#bh)"/>
<ellipse cx="180.6" cy="105.0" rx="2.4" ry="1.6" transform="rotate(40 180.6 105.0)" fill="#c2c2c2" filter="url(#be)"/>
<path d="M172.90,96.00 C173.85,96.00 174.69,96.75 175.59,97.50 C176.48,98.25 177.37,99.42 178.26,100.50 C179.16,101.58 180.14,102.75 180.97,104.00 C181.79,105.25 182.83,106.17 183.20,108.00 C183.57,109.83 183.03,112.00 183.20,115.00 C183.37,118.00 183.87,122.17 184.20,126.00 C184.53,129.83 185.62,134.67 185.20,138.00 C184.78,141.33 183.12,143.92 181.70,146.00 C180.28,148.08 178.60,149.75 176.70,150.50 C174.80,151.25 171.95,151.25 170.30,150.50 C168.65,149.75 167.72,148.08 166.80,146.00 C165.88,143.92 165.12,141.33 164.80,138.00 C164.48,134.67 165.07,129.83 164.90,126.00 C164.73,122.17 164.18,118.00 163.80,115.00 C163.42,112.00 162.56,109.83 162.60,108.00 C162.64,106.17 163.34,105.25 164.03,104.00 C164.72,102.75 165.76,101.58 166.74,100.50 C167.72,99.42 168.89,98.25 169.91,97.50 C170.94,96.75 171.95,96.00 172.90,96.00Z" fill="url(#mg2)" filter="url(#bm)"/>
<path d="M182,139 L185.5,141" stroke="#c8c8c8" stroke-width="1.4" filter="url(#bm)"/>
<path d="M164.50,104.00 C165.18,102.58 166.58,101.87 168.00,101.50 C169.42,101.13 171.73,101.05 173.00,101.80 C174.27,102.55 175.22,104.30 175.60,106.00 C175.98,107.70 175.90,110.42 175.30,112.00 C174.70,113.58 172.97,114.37 172.00,115.50 C171.03,116.63 170.23,118.47 169.50,118.80 C168.77,119.13 168.18,118.47 167.60,117.50 C167.02,116.53 166.62,114.25 166.00,113.00 C165.38,111.75 164.15,111.50 163.90,110.00 C163.65,108.50 163.82,105.42 164.50,104.00Z" fill="#2846c4" filter="url(#bh)" />
<ellipse cx="169.7" cy="108.5" rx="3.30" ry="3.70" fill="#2846c4" filter="url(#bh)"/>
<ellipse cx="169.7" cy="108.5" rx="1.45" ry="1.63" fill="#2a9ae6" filter="url(#bh)"/>
<path d="M167.00,123.00 C168.03,121.12 170.33,121.75 172.00,121.70 C173.67,121.65 175.33,122.40 177.00,122.70 C178.67,123.00 180.82,122.45 182.00,123.50 C183.18,124.55 183.93,126.75 184.10,129.00 C184.27,131.25 183.85,134.83 183.00,137.00 C182.15,139.17 180.25,140.83 179.00,142.00 C177.75,143.17 176.25,142.58 175.50,144.00 C174.75,145.42 175.00,149.42 174.50,150.50 C174.00,151.58 173.00,151.58 172.50,150.50 C172.00,149.42 172.42,145.58 171.50,144.00 C170.58,142.42 167.95,142.83 167.00,141.00 C166.05,139.17 165.80,136.00 165.80,133.00 C165.80,130.00 165.97,124.88 167.00,123.00Z" fill="#2846c4" filter="url(#bh)" />
<ellipse cx="172.9" cy="132.8" rx="5.40" ry="10.40" fill="#2846c4" filter="url(#bh)"/>
<ellipse cx="172.9" cy="132.8" rx="3.57" ry="6.88" fill="#2a9ae6" filter="url(#bh)"/>
<ellipse cx="172.9" cy="132.8" rx="2.72" ry="5.25" fill="#40c4b0" filter="url(#bh)"/>
<ellipse cx="172.9" cy="132.8" rx="2.06" ry="3.96" fill="#6cc844" filter="url(#bh)"/>
<ellipse cx="172.9" cy="132.8" rx="1.48" ry="2.86" fill="#6cc844" filter="url(#bh)"/>
<ellipse cx="173.0" cy="133.5" rx="2.60" ry="5.50" fill="#6cc844" filter="url(#bh)"/>
<ellipse cx="173.0" cy="133.5" rx="1.14" ry="2.42" fill="#e6dc28" filter="url(#bh)"/>
<ellipse cx="171.3" cy="132.4" rx="1.60" ry="2.00" fill="#ee8a24" filter="url(#bh)"/>
<ellipse cx="171.3" cy="132.4" rx="0.70" ry="0.88" fill="#e4261e" filter="url(#bh)"/>
<ellipse cx="174.0" cy="127.6" rx="1.50" ry="1.60" fill="#ee8a24" filter="url(#bh)"/>
<ellipse cx="174.0" cy="127.6" rx="0.66" ry="0.70" fill="#e4261e" filter="url(#bh)"/>
<ellipse cx="180.9" cy="128.1" rx="2.60" ry="2.60" fill="#2846c4" filter="url(#bh)"/>
<ellipse cx="180.9" cy="128.1" rx="1.43" ry="1.43" fill="#2a9ae6" filter="url(#bh)"/>
<ellipse cx="180.9" cy="128.1" rx="0.89" ry="0.89" fill="#40c4b0" filter="url(#bh)"/>
<path d="M196.00,97.00 C197.35,96.58 200.15,96.17 202.00,96.50 C203.85,96.83 205.59,97.08 207.12,99.00 C208.64,100.92 210.26,104.50 211.14,108.00 C212.02,111.50 212.02,115.50 212.40,120.00 C212.78,124.50 213.23,130.33 213.40,135.00 C213.57,139.67 214.68,145.40 213.40,148.00 C212.12,150.60 208.48,150.17 205.70,150.60 C202.92,151.03 199.35,151.03 196.70,150.60 C194.05,150.17 191.12,150.60 189.80,148.00 C188.48,145.40 188.90,139.67 188.80,135.00 C188.70,130.33 189.03,124.17 189.20,120.00 C189.37,115.83 189.90,112.08 189.80,110.00 C189.70,107.92 188.56,108.42 188.59,107.50 C188.61,106.58 189.08,105.92 189.96,104.50 C190.85,103.08 192.88,100.25 193.88,99.00 C194.89,97.75 194.65,97.42 196.00,97.00Z" fill="url(#mg2)" filter="url(#bm)"/>
<path d="M191.60,106.50 C191.85,105.42 192.77,102.72 194.00,101.30 C195.23,99.88 197.25,98.75 199.00,98.00 C200.75,97.25 203.28,96.63 204.50,96.80 C205.72,96.97 206.38,98.22 206.30,99.00 C206.22,99.78 205.22,100.67 204.00,101.50 C202.78,102.33 200.50,103.03 199.00,104.00 C197.50,104.97 196.08,106.67 195.00,107.30 C193.92,107.93 193.07,107.93 192.50,107.80 C191.93,107.67 191.35,107.58 191.60,106.50Z" fill="#2846c4" filter="url(#bh)" />
<ellipse cx="195.7" cy="103.2" rx="1.80" ry="1.70" fill="#2a9ae6" filter="url(#bh)"/>
<ellipse cx="195.7" cy="103.2" rx="0.99" ry="0.94" fill="#6cc844" filter="url(#bh)"/>
<ellipse cx="195.7" cy="103.2" rx="0.62" ry="0.58" fill="#e6dc28" filter="url(#bh)"/>
<ellipse cx="200.5" cy="99.9" rx="1.80" ry="1.50" fill="#2a9ae6" filter="url(#bh)"/>
<ellipse cx="200.5" cy="99.9" rx="0.99" ry="0.83" fill="#6cc844" filter="url(#bh)"/>
<ellipse cx="200.5" cy="99.9" rx="0.62" ry="0.52" fill="#e6dc28" filter="url(#bh)"/>
<ellipse cx="198.9" cy="116.9" rx="5.60" ry="3.30" fill="#2846c4" filter="url(#bh)"/>
<ellipse cx="198.9" cy="116.9" rx="3.09" ry="1.82" fill="#2a9ae6" filter="url(#bh)"/>
<ellipse cx="198.9" cy="116.9" rx="1.93" ry="1.13" fill="#40c4b0" filter="url(#bh)"/>
<path d="M189.90,126.50 C190.65,125.25 192.48,126.83 194.00,127.50 C195.52,128.17 197.17,129.42 199.00,130.50 C200.83,131.58 202.92,133.62 205.00,134.00 C207.08,134.38 210.20,132.13 211.50,132.80 C212.80,133.47 212.60,135.80 212.80,138.00 C213.00,140.20 213.67,144.27 212.70,146.00 C211.73,147.73 209.28,147.85 207.00,148.40 C204.72,148.95 201.33,149.37 199.00,149.30 C196.67,149.23 194.55,149.05 193.00,148.00 C191.45,146.95 190.28,145.17 189.70,143.00 C189.12,140.83 189.47,137.75 189.50,135.00 C189.53,132.25 189.15,127.75 189.90,126.50Z" fill="#2846c4" filter="url(#bh)" />
<ellipse cx="199.4" cy="139.8" rx="3.40" ry="4.40" fill="#2846c4" filter="url(#bh)"/>
<ellipse cx="199.4" cy="139.8" rx="2.36" ry="3.05" fill="#2a9ae6" filter="url(#bh)"/>
<ellipse cx="199.4" cy="139.8" rx="1.88" ry="2.43" fill="#6cc844" filter="url(#bh)"/>
<ellipse cx="199.4" cy="139.8" rx="1.50" ry="1.94" fill="#e6dc28" filter="url(#bh)"/>
<ellipse cx="199.4" cy="139.8" rx="1.17" ry="1.51" fill="#ee8a24" filter="url(#bh)"/>
<ellipse cx="199.4" cy="139.8" rx="0.88" ry="1.14" fill="#e4261e" filter="url(#bh)"/>
</g>
<line x1="159.6" y1="94.6" x2="159.6" y2="150.6" stroke="#9a9a9a" stroke-width="0.7"/>
<line x1="187.0" y1="94.6" x2="187.0" y2="150.6" stroke="#3a3a3a" stroke-width="0.6"/>
<rect x="43.3" y="215.2" width="80.4" height="56.19999999999999" fill="#232323"/>
<g clip-path="url(#cC1)">
<path d="M59.00,217.00 C60.12,216.92 61.17,216.33 62.09,218.50 C63.00,220.67 64.01,225.58 64.50,230.00 C64.99,234.42 64.88,240.67 65.00,245.00 C65.12,249.33 65.58,252.17 65.20,256.00 C64.82,259.83 64.12,265.42 62.70,268.00 C61.28,270.58 58.60,270.92 56.70,271.50 C54.80,272.08 52.87,271.92 51.30,271.50 C49.73,271.08 48.30,271.25 47.30,269.00 C46.30,266.75 45.37,261.50 45.30,258.00 C45.23,254.50 46.57,251.83 46.90,248.00 C47.23,244.17 47.44,238.83 47.30,235.00 C47.16,231.17 46.44,227.08 46.03,225.00 C45.63,222.92 44.26,223.17 44.88,222.50 C45.50,221.83 48.02,221.58 49.77,221.00 C51.52,220.42 53.84,219.67 55.38,219.00 C56.92,218.33 57.88,217.08 59.00,217.00Z" fill="url(#mg2)" filter="url(#bm)"/>
<path d="M58.50,217.50 C59.42,216.43 60.65,216.52 61.50,217.60 C62.35,218.68 63.18,220.93 63.60,224.00 C64.02,227.07 63.87,232.17 64.00,236.00 C64.13,239.83 64.23,243.67 64.40,247.00 C64.57,250.33 64.32,254.58 65.00,256.00 C65.68,257.42 68.50,254.50 68.50,255.50 C68.50,256.50 66.00,259.50 65.00,262.00 C64.00,264.50 64.00,268.87 62.50,270.50 C61.00,272.13 58.50,271.80 56.00,271.80 C53.50,271.80 49.17,272.13 47.50,270.50 C45.83,268.87 46.00,265.25 46.00,262.00 C46.00,258.75 46.50,253.67 47.50,251.00 C48.50,248.33 50.78,248.50 52.00,246.00 C53.22,243.50 54.13,239.67 54.80,236.00 C55.47,232.33 55.38,227.08 56.00,224.00 C56.62,220.92 57.58,218.57 58.50,217.50Z" fill="#2846c4" filter="url(#bh)" />
<path d="M59.50,221.00 C60.03,220.00 61.00,220.17 61.50,222.00 C62.00,223.83 62.50,228.67 62.50,232.00 C62.50,235.33 62.00,239.67 61.50,242.00 C61.00,244.33 60.08,246.67 59.50,246.00 C58.92,245.33 58.20,241.00 58.00,238.00 C57.80,235.00 58.05,230.83 58.30,228.00 C58.55,225.17 58.97,222.00 59.50,221.00Z" fill="#2a9ae6" filter="url(#bh)" />
<path d="M47.86,255.12 C48.33,253.62 49.18,251.93 50.28,251.00 C51.39,250.07 53.11,249.59 54.52,249.55 C55.93,249.51 57.56,249.93 58.75,250.76 C59.94,251.59 61.11,252.78 61.66,254.51 C62.20,256.25 62.22,259.09 62.02,261.17 C61.82,263.24 61.36,265.60 60.45,266.97 C59.54,268.35 57.56,268.89 56.58,269.39 C55.59,269.90 55.53,270.02 54.52,270.00 C53.51,269.98 51.57,270.14 50.53,269.27 C49.48,268.41 48.73,266.35 48.23,264.80 C47.72,263.24 47.56,261.57 47.50,259.96 C47.44,258.34 47.40,256.61 47.86,255.12Z" fill="#2a9ae6" filter="url(#bh)" />
<path d="M48.24,255.41 C48.68,254.00 49.48,252.41 50.52,251.53 C51.57,250.66 53.18,250.20 54.51,250.17 C55.84,250.13 57.38,250.53 58.50,251.31 C59.62,252.09 60.73,253.21 61.24,254.84 C61.75,256.47 61.77,259.15 61.58,261.11 C61.39,263.07 60.95,265.29 60.10,266.58 C59.24,267.87 57.38,268.39 56.45,268.86 C55.52,269.34 55.46,269.45 54.51,269.43 C53.56,269.41 51.74,269.57 50.75,268.75 C49.76,267.93 49.06,265.99 48.58,264.53 C48.11,263.07 47.96,261.49 47.90,259.97 C47.84,258.45 47.81,256.82 48.24,255.41Z" fill="#6cc844" filter="url(#bh)" />
<path d="M48.62,255.71 C49.03,254.39 49.78,252.89 50.76,252.07 C51.74,251.25 53.26,250.82 54.51,250.78 C55.75,250.75 57.20,251.12 58.25,251.85 C59.30,252.58 60.34,253.64 60.82,255.17 C61.30,256.70 61.32,259.22 61.14,261.06 C60.96,262.89 60.55,264.98 59.75,266.19 C58.95,267.40 57.20,267.89 56.33,268.33 C55.45,268.78 55.40,268.88 54.51,268.87 C53.61,268.85 51.90,268.99 50.98,268.22 C50.05,267.46 49.39,265.64 48.94,264.27 C48.50,262.89 48.35,261.41 48.30,259.99 C48.25,258.56 48.21,257.03 48.62,255.71Z" fill="#e6dc28" filter="url(#bh)" />
<path d="M49.00,256.00 C49.38,254.77 50.08,253.37 51.00,252.60 C51.92,251.83 53.33,251.43 54.50,251.40 C55.67,251.37 57.02,251.72 58.00,252.40 C58.98,253.08 59.95,254.07 60.40,255.50 C60.85,256.93 60.87,259.28 60.70,261.00 C60.53,262.72 60.15,264.67 59.40,265.80 C58.65,266.93 57.02,267.38 56.20,267.80 C55.38,268.22 55.33,268.32 54.50,268.30 C53.67,268.28 52.07,268.42 51.20,267.70 C50.33,266.98 49.72,265.28 49.30,264.00 C48.88,262.72 48.75,261.33 48.70,260.00 C48.65,258.67 48.62,257.23 49.00,256.00Z" fill="#e4261e" filter="url(#bh)" />
<ellipse cx="54.6" cy="257.4" rx="2.4" ry="2.6" fill="#ffffff" filter="url(#bh)"/>
<ellipse cx="54.6" cy="257.4" rx="3.4" ry="3.6" fill="#f0e860" opacity="0.35" filter="url(#bh)"/>
<circle cx="54.3" cy="264.0" r="1.0" fill="#d0e8b0" filter="url(#bh)"/>
<ellipse cx="90.4" cy="229.3" rx="2.6" ry="1.7" transform="rotate(40 90.4 229.3)" fill="#c2c2c2" filter="url(#be)"/>
<ellipse cx="75.2" cy="228.3" rx="2.0" ry="1.5" transform="rotate(-40 75.2 228.3)" fill="#c2c2c2" filter="url(#be)"/>
<path d="M81.80,217.20 C82.58,217.20 83.27,218.03 84.11,219.00 C84.94,219.97 85.92,221.50 86.84,223.00 C87.76,224.50 88.74,226.50 89.63,228.00 C90.52,229.50 91.47,230.00 92.20,232.00 C92.93,234.00 93.67,237.00 94.00,240.00 C94.33,243.00 94.25,246.67 94.20,250.00 C94.15,253.33 94.28,257.17 93.70,260.00 C93.12,262.83 92.03,265.07 90.70,267.00 C89.37,268.93 87.77,270.83 85.70,271.60 C83.63,272.37 80.20,272.37 78.30,271.60 C76.40,270.83 75.25,268.93 74.30,267.00 C73.35,265.07 72.85,262.83 72.60,260.00 C72.35,257.17 72.72,253.33 72.80,250.00 C72.88,246.67 72.97,243.00 73.10,240.00 C73.23,237.00 73.30,234.00 73.60,232.00 C73.89,230.00 74.36,229.50 74.87,228.00 C75.38,226.50 75.91,224.50 76.66,223.00 C77.42,221.50 78.54,219.97 79.39,219.00 C80.25,218.03 81.02,217.20 81.80,217.20Z" fill="url(#mg2)" filter="url(#bm)"/>
<path d="M90,263 L93.5,266" stroke="#c8c8c8" stroke-width="1.4" filter="url(#bm)"/>
<path d="M76.50,244.00 C77.47,242.10 78.67,239.47 80.00,238.60 C81.33,237.73 83.13,237.90 84.50,238.80 C85.87,239.70 87.48,241.47 88.20,244.00 C88.92,246.53 88.83,251.00 88.80,254.00 C88.77,257.00 88.50,259.92 88.00,262.00 C87.50,264.08 86.43,264.92 85.80,266.50 C85.17,268.08 84.92,270.67 84.20,271.50 C83.48,272.33 82.28,272.42 81.50,271.50 C80.72,270.58 80.67,267.17 79.50,266.00 C78.33,264.83 75.55,266.00 74.50,264.50 C73.45,263.00 73.25,259.42 73.20,257.00 C73.15,254.58 73.65,252.17 74.20,250.00 C74.75,247.83 75.53,245.90 76.50,244.00Z" fill="#2846c4" filter="url(#bh)" />
<ellipse cx="82.3" cy="253.4" rx="3.00" ry="5.80" fill="#2846c4" filter="url(#bh)"/>
<ellipse cx="82.3" cy="253.4" rx="1.85" ry="3.58" fill="#2a9ae6" filter="url(#bh)"/>
<ellipse cx="82.3" cy="253.4" rx="1.32" ry="2.55" fill="#40c4b0" filter="url(#bh)"/>
<ellipse cx="82.3" cy="253.4" rx="0.90" ry="1.74" fill="#6cc844" filter="url(#bh)"/>
<ellipse cx="92.4" cy="255.6" rx="2.50" ry="2.60" fill="#34289e" filter="url(#bh)"/>
<ellipse cx="92.4" cy="255.6" rx="1.10" ry="1.14" fill="#2846c4" filter="url(#bh)"/>
<ellipse cx="84.4" cy="226.8" rx="3.90" ry="3.90" fill="#34289e" filter="url(#bh)"/>
<ellipse cx="84.4" cy="226.8" rx="2.80" ry="2.80" fill="#2846c4" filter="url(#bh)"/>
<ellipse cx="84.4" cy="226.8" rx="2.29" ry="2.29" fill="#2a9ae6" filter="url(#bh)"/>
<ellipse cx="84.4" cy="226.8" rx="1.89" ry="1.89" fill="#40c4b0" filter="url(#bh)"/>
<ellipse cx="84.4" cy="226.8" rx="1.55" ry="1.55" fill="#e6dc28" filter="url(#bh)"/>
<ellipse cx="84.4" cy="226.8" rx="1.24" ry="1.24" fill="#ee8a24" filter="url(#bh)"/>
<ellipse cx="84.4" cy="226.8" rx="0.96" ry="0.96" fill="#e4261e" filter="url(#bh)"/>
<ellipse cx="117.2" cy="227.4" rx="2.8" ry="1.7" transform="rotate(30 117.2 227.4)" fill="#c2c2c2" filter="url(#be)"/>
<path d="M106.20,217.60 C106.98,217.52 107.73,218.18 108.58,219.00 C109.43,219.82 110.38,221.33 111.29,222.50 C112.19,223.67 113.00,224.75 113.99,226.00 C114.98,227.25 116.25,228.33 117.20,230.00 C118.15,231.67 118.87,233.50 119.70,236.00 C120.53,238.50 121.53,241.33 122.20,245.00 C122.87,248.67 124.12,254.50 123.70,258.00 C123.28,261.50 121.25,263.73 119.70,266.00 C118.15,268.27 115.97,270.67 114.40,271.60 C112.83,272.53 111.98,272.53 110.30,271.60 C108.62,270.67 105.77,268.27 104.30,266.00 C102.83,263.73 101.97,261.00 101.50,258.00 C101.03,255.00 101.48,251.33 101.50,248.00 C101.52,244.67 101.57,241.00 101.60,238.00 C101.63,235.00 101.53,232.33 101.70,230.00 C101.87,227.67 102.26,225.75 102.63,224.00 C102.99,222.25 103.29,220.57 103.89,219.50 C104.48,218.43 105.42,217.68 106.20,217.60Z" fill="url(#mg2)" filter="url(#bm)"/>
<path d="M108.00,218.50 C108.60,218.08 110.13,218.58 111.00,219.50 C111.87,220.42 112.95,222.50 113.20,224.00 C113.45,225.50 113.03,227.67 112.50,228.50 C111.97,229.33 110.75,229.42 110.00,229.00 C109.25,228.58 108.43,227.17 108.00,226.00 C107.57,224.83 107.40,223.25 107.40,222.00 C107.40,220.75 107.40,218.92 108.00,218.50Z" fill="#2846c4" filter="url(#bh)" />
<ellipse cx="110.6" cy="225.2" rx="1.30" ry="1.60" fill="#40c4b0" filter="url(#bh)"/>
<ellipse cx="110.6" cy="225.2" rx="0.57" ry="0.70" fill="#6cc844" filter="url(#bh)"/>
<path d="M102.60,243.50 C103.57,241.25 106.10,241.28 108.00,240.50 C109.90,239.72 112.08,239.38 114.00,238.80 C115.92,238.22 118.25,236.30 119.50,237.00 C120.75,237.70 120.97,240.00 121.50,243.00 C122.03,246.00 122.70,251.83 122.70,255.00 C122.70,258.17 122.45,260.25 121.50,262.00 C120.55,263.75 118.30,264.08 117.00,265.50 C115.70,266.92 115.12,270.58 113.70,270.50 C112.28,270.42 110.20,266.25 108.50,265.00 C106.80,263.75 104.55,264.83 103.50,263.00 C102.45,261.17 102.35,257.25 102.20,254.00 C102.05,250.75 101.63,245.75 102.60,243.50Z" fill="#3a34a8" filter="url(#bh)" />
<path d="M103.80,244.50 C104.72,242.80 107.30,242.47 109.00,241.80 C110.70,241.13 112.33,240.97 114.00,240.50 C115.67,240.03 117.87,238.25 119.00,239.00 C120.13,239.75 120.38,242.33 120.80,245.00 C121.22,247.67 121.80,252.33 121.50,255.00 C121.20,257.67 120.08,259.67 119.00,261.00 C117.92,262.33 115.88,262.17 115.00,263.00 C114.12,263.83 114.62,266.17 113.70,266.00 C112.78,265.83 111.03,263.00 109.50,262.00 C107.97,261.00 105.50,261.67 104.50,260.00 C103.50,258.33 103.62,254.58 103.50,252.00 C103.38,249.42 102.88,246.20 103.80,244.50Z" fill="#2846c4" filter="url(#bh)" />
<ellipse cx="112.9" cy="246.6" rx="3.80" ry="3.50" fill="#2a9ae6" filter="url(#bh)"/>
<ellipse cx="112.9" cy="246.6" rx="2.35" ry="2.16" fill="#40c4b0" filter="url(#bh)"/>
<ellipse cx="112.9" cy="246.6" rx="1.67" ry="1.54" fill="#6cc844" filter="url(#bh)"/>
<ellipse cx="112.9" cy="246.6" rx="1.14" ry="1.05" fill="#e6dc28" filter="url(#bh)"/>
<ellipse cx="117.9" cy="247.6" rx="2.20" ry="2.30" fill="#2a9ae6" filter="url(#bh)"/>
<ellipse cx="117.9" cy="247.6" rx="1.21" ry="1.27" fill="#40c4b0" filter="url(#bh)"/>
<ellipse cx="117.9" cy="247.6" rx="0.76" ry="0.79" fill="#6cc844" filter="url(#bh)"/>
<circle cx="106.3" cy="253.5" r="1.3" fill="#d8d8d8" filter="url(#bh)"/>
</g>
<line x1="70.6" y1="215.2" x2="70.6" y2="271.4" stroke="#d0d0d0" stroke-width="0.8"/>
<line x1="97.3" y1="215.2" x2="97.3" y2="271.4" stroke="#444" stroke-width="0.6"/>
<rect x="43.3" y="275.7" width="80.60000000000001" height="56.0" fill="#232323"/>
<g clip-path="url(#cC2)">
<path d="M56.90,276.00 C58.67,276.18 60.94,278.67 61.99,281.00 C63.04,283.33 62.52,287.50 63.20,290.00 C63.88,292.50 65.55,292.67 66.10,296.00 C66.65,299.33 66.15,306.22 66.50,310.00 C66.85,313.78 68.67,315.37 68.20,318.70 C67.73,322.03 65.45,327.83 63.70,330.00 C61.95,332.17 59.93,331.42 57.70,331.70 C55.47,331.98 52.03,332.65 50.30,331.70 C48.57,330.75 47.83,328.78 47.30,326.00 C46.77,323.22 47.02,318.50 47.10,315.00 C47.18,311.50 47.77,308.50 47.80,305.00 C47.83,301.50 47.58,296.85 47.30,294.00 C47.02,291.15 45.43,290.25 46.11,287.90 C46.78,285.55 49.57,281.88 51.37,279.90 C53.17,277.92 55.13,275.82 56.90,276.00Z" fill="url(#mg2)" filter="url(#bm)"/>
<path d="M50.00,279.00 C51.32,276.92 52.17,276.40 53.50,275.80 C54.83,275.20 56.62,275.03 58.00,275.40 C59.38,275.77 60.98,276.73 61.80,278.00 C62.62,279.27 62.73,280.47 62.90,283.00 C63.07,285.53 63.08,289.12 62.80,293.20 C62.52,297.28 62.00,304.45 61.20,307.50 C60.40,310.55 57.20,311.00 58.00,311.50 C58.80,312.00 64.28,309.30 66.00,310.50 C67.72,311.70 68.53,316.12 68.30,318.70 C68.07,321.28 66.32,323.95 64.60,326.00 C62.88,328.05 60.18,330.25 58.00,331.00 C55.82,331.75 52.77,332.33 51.50,330.50 C50.23,328.67 50.57,323.08 50.40,320.00 C50.23,316.92 50.83,314.83 50.50,312.00 C50.17,309.17 48.82,306.32 48.40,303.00 C47.98,299.68 48.47,294.55 48.00,292.10 C47.53,289.65 45.27,290.48 45.60,288.30 C45.93,286.12 48.68,281.08 50.00,279.00Z" fill="#2846c4" filter="url(#bh)" />
<path d="M50.63,279.41 C51.76,277.47 52.66,277.01 53.92,276.44 C55.17,275.88 56.92,275.70 58.16,276.02 C59.40,276.34 60.65,277.17 61.34,278.35 C62.03,279.53 62.15,280.61 62.29,283.12 C62.43,285.63 62.49,289.37 62.19,293.40 C61.89,297.43 61.87,304.46 60.49,307.29 C59.11,310.12 55.72,311.02 53.92,310.36 C52.12,309.71 50.47,306.41 49.68,303.37 C48.88,300.33 49.57,294.67 49.15,292.13 C48.72,289.59 46.89,290.22 47.13,288.10 C47.38,285.98 49.50,281.35 50.63,279.41Z" fill="#6cc844" filter="url(#bh)" />
<path d="M50.77,279.71 C51.87,277.82 52.74,277.37 53.96,276.82 C55.18,276.27 56.88,276.10 58.08,276.41 C59.28,276.72 60.50,277.53 61.17,278.68 C61.84,279.83 61.96,280.87 62.10,283.31 C62.23,285.75 62.29,289.39 61.99,293.30 C61.70,297.22 61.68,304.05 60.35,306.79 C59.01,309.54 55.71,310.42 53.96,309.78 C52.21,309.15 50.61,305.94 49.84,302.98 C49.07,300.03 49.74,294.54 49.32,292.07 C48.91,289.59 47.13,290.21 47.37,288.15 C47.61,286.09 49.67,281.59 50.77,279.71Z" fill="#e6dc28" filter="url(#bh)" />
<path d="M50.90,280.00 C51.97,278.17 52.82,277.73 54.00,277.20 C55.18,276.67 56.83,276.50 58.00,276.80 C59.17,277.10 60.35,277.88 61.00,279.00 C61.65,280.12 61.77,281.13 61.90,283.50 C62.03,285.87 62.08,289.40 61.80,293.20 C61.52,297.00 61.50,303.63 60.20,306.30 C58.90,308.97 55.70,309.82 54.00,309.20 C52.30,308.58 50.75,305.47 50.00,302.60 C49.25,299.73 49.90,294.40 49.50,292.00 C49.10,289.60 47.37,290.20 47.60,288.20 C47.83,286.20 49.83,281.83 50.90,280.00Z" fill="#e4261e" filter="url(#bh)" />
<ellipse cx="55.2" cy="284.8" rx="1.6" ry="0.9" fill="#d9d9d9" filter="url(#bh)"/>
<path d="M52.20,315.00 C52.98,313.63 54.70,313.72 56.00,313.80 C57.30,313.88 58.83,315.80 60.00,315.50 C61.17,315.20 61.87,312.42 63.00,312.00 C64.13,311.58 66.03,311.92 66.80,313.00 C67.57,314.08 67.98,316.50 67.60,318.50 C67.22,320.50 65.85,323.08 64.50,325.00 C63.15,326.92 61.45,329.20 59.50,330.00 C57.55,330.80 54.17,331.13 52.80,329.80 C51.43,328.47 51.40,324.47 51.30,322.00 C51.20,319.53 51.42,316.37 52.20,315.00Z" fill="#6cc844" filter="url(#bh)" />
<path d="M52.80,316.00 C53.47,314.83 54.92,314.83 56.00,315.00 C57.08,315.17 58.22,317.28 59.30,317.00 C60.38,316.72 61.35,313.77 62.50,313.30 C63.65,312.83 65.48,313.33 66.20,314.20 C66.92,315.07 67.20,316.87 66.80,318.50 C66.40,320.13 65.07,322.25 63.80,324.00 C62.53,325.75 60.93,328.20 59.20,329.00 C57.47,329.80 54.60,329.97 53.40,328.80 C52.20,327.63 52.10,324.13 52.00,322.00 C51.90,319.87 52.13,317.17 52.80,316.00Z" fill="#e4261e" filter="url(#bh)" />
<ellipse cx="59.8" cy="316.2" rx="1.60" ry="1.40" fill="#6cc844" filter="url(#bh)"/>
<ellipse cx="59.8" cy="316.2" rx="0.70" ry="0.62" fill="#e6dc28" filter="url(#bh)"/>
<path d="M82.00,277.20 C83.03,277.20 84.11,277.70 85.08,278.50 C86.04,279.30 86.95,280.58 87.78,282.00 C88.61,283.42 89.17,285.33 90.07,287.00 C90.98,288.67 92.30,289.83 93.20,292.00 C94.10,294.17 95.05,296.67 95.50,300.00 C95.95,303.33 95.87,308.33 95.90,312.00 C95.93,315.67 96.23,319.17 95.70,322.00 C95.17,324.83 94.20,327.37 92.70,329.00 C91.20,330.63 89.27,331.33 86.70,331.80 C84.13,332.27 79.70,332.27 77.30,331.80 C74.90,331.33 73.45,330.63 72.30,329.00 C71.15,327.37 70.68,324.83 70.40,322.00 C70.12,319.17 70.48,315.33 70.60,312.00 C70.72,308.67 70.78,305.17 71.10,302.00 C71.42,298.83 71.95,295.50 72.50,293.00 C73.05,290.50 73.72,288.83 74.43,287.00 C75.13,285.17 75.97,283.42 76.72,282.00 C77.47,280.58 78.04,279.30 78.92,278.50 C79.80,277.70 80.97,277.20 82.00,277.20Z" fill="url(#mg2)" filter="url(#bm)"/>
<path d="M72.50,292.20 C72.95,290.95 74.88,289.37 75.50,287.50 C76.12,285.63 75.62,282.65 76.20,281.00 C76.78,279.35 77.87,278.23 79.00,277.60 C80.13,276.97 81.62,276.97 83.00,277.20 C84.38,277.43 86.30,277.87 87.30,279.00 C88.30,280.13 88.88,282.23 89.00,284.00 C89.12,285.77 88.83,288.33 88.00,289.60 C87.17,290.87 85.42,291.20 84.00,291.60 C82.58,292.00 80.92,291.57 79.50,292.00 C78.08,292.43 76.62,293.70 75.50,294.20 C74.38,294.70 73.30,295.33 72.80,295.00 C72.30,294.67 72.05,293.45 72.50,292.20Z" fill="#2846c4" filter="url(#bh)" />
<path d="M74.50,292.20 C74.42,291.58 76.08,289.67 77.00,289.50 C77.92,289.33 79.92,290.58 80.00,291.20 C80.08,291.82 78.42,293.03 77.50,293.20 C76.58,293.37 74.58,292.82 74.50,292.20Z" fill="#2a9ae6" filter="url(#bh)" />
<path d="M76.85,281.84 C77.24,280.48 78.27,279.41 79.31,278.84 C80.34,278.27 81.84,278.23 83.05,278.41 C84.27,278.59 85.73,278.95 86.58,279.91 C87.44,280.87 88.10,282.73 88.19,284.19 C88.28,285.65 87.98,287.65 87.12,288.68 C86.26,289.72 84.41,290.18 83.05,290.40 C81.70,290.61 80.00,290.54 78.99,289.97 C77.97,289.40 77.31,288.33 76.95,286.97 C76.60,285.62 76.46,283.19 76.85,281.84Z" fill="#40c4b0" filter="url(#bh)" />
<path d="M77.20,282.00 C77.57,280.73 78.53,279.73 79.50,279.20 C80.47,278.67 81.87,278.63 83.00,278.80 C84.13,278.97 85.50,279.30 86.30,280.20 C87.10,281.10 87.72,282.83 87.80,284.20 C87.88,285.57 87.60,287.43 86.80,288.40 C86.00,289.37 84.27,289.80 83.00,290.00 C81.73,290.20 80.15,290.13 79.20,289.60 C78.25,289.07 77.63,288.07 77.30,286.80 C76.97,285.53 76.83,283.27 77.20,282.00Z" fill="#e4261e" filter="url(#bh)" />
<path d="M75.00,297.50 C75.38,295.83 76.33,294.65 77.50,294.00 C78.67,293.35 80.50,293.40 82.00,293.60 C83.50,293.80 85.35,294.22 86.50,295.20 C87.65,296.18 88.48,297.87 88.90,299.50 C89.32,301.13 89.27,303.32 89.00,305.00 C88.73,306.68 88.47,308.60 87.30,309.60 C86.13,310.60 83.72,310.97 82.00,311.00 C80.28,311.03 78.13,310.97 77.00,309.80 C75.87,308.63 75.53,306.05 75.20,304.00 C74.87,301.95 74.62,299.17 75.00,297.50Z" fill="#2846c4" filter="url(#bh)" />
<path d="M76.20,298.00 C76.53,296.53 77.33,295.73 78.30,295.20 C79.27,294.67 80.75,294.62 82.00,294.80 C83.25,294.98 84.83,295.43 85.80,296.30 C86.77,297.17 87.45,298.55 87.80,300.00 C88.15,301.45 88.13,303.57 87.90,305.00 C87.67,306.43 87.38,307.80 86.40,308.60 C85.42,309.40 83.43,309.77 82.00,309.80 C80.57,309.83 78.75,309.77 77.80,308.80 C76.85,307.83 76.57,305.80 76.30,304.00 C76.03,302.20 75.87,299.47 76.20,298.00Z" fill="#6cc844" filter="url(#bh)" />
<path d="M76.80,296.20 C77.05,295.85 78.25,295.73 79.00,295.80 C79.75,295.87 81.05,296.23 81.30,296.60 C81.55,296.97 81.13,297.78 80.50,298.00 C79.87,298.22 78.12,298.20 77.50,297.90 C76.88,297.60 76.55,296.55 76.80,296.20Z" fill="#e4261e" filter="url(#bh)" />
<path d="M77.33,301.36 C77.79,300.42 78.74,299.33 79.87,298.92 C81.00,298.51 82.91,298.57 84.11,298.92 C85.31,299.27 86.53,300.02 87.08,301.04 C87.63,302.07 87.61,303.90 87.40,305.07 C87.19,306.24 86.71,307.40 85.81,308.04 C84.91,308.67 83.23,308.92 81.99,308.89 C80.76,308.85 79.20,308.55 78.39,307.83 C77.58,307.10 77.29,305.62 77.12,304.54 C76.94,303.46 76.87,302.30 77.33,301.36Z" fill="#e6dc28" filter="url(#bh)" />
<path d="M77.60,301.50 C78.03,300.62 78.93,299.58 80.00,299.20 C81.07,298.82 82.87,298.87 84.00,299.20 C85.13,299.53 86.28,300.23 86.80,301.20 C87.32,302.17 87.30,303.90 87.10,305.00 C86.90,306.10 86.45,307.20 85.60,307.80 C84.75,308.40 83.17,308.63 82.00,308.60 C80.83,308.57 79.37,308.28 78.60,307.60 C77.83,306.92 77.57,305.52 77.40,304.50 C77.23,303.48 77.17,302.38 77.60,301.50Z" fill="#e4261e" filter="url(#bh)" />
<path d="M71.8,312.5 L71.3,321" stroke="#2244cc" stroke-width="1.6" filter="url(#bh)"/>
<ellipse cx="101.9" cy="289.0" rx="2.8" ry="1.9" transform="rotate(-30 101.9 289.0)" fill="#c2c2c2" filter="url(#be)"/>
<ellipse cx="118.0" cy="288.3" rx="2.8" ry="1.9" transform="rotate(30 118.0 288.3)" fill="#c2c2c2" filter="url(#be)"/>
<path d="M109.90,277.20 C110.79,277.20 111.68,277.70 112.58,278.50 C113.47,279.30 114.46,280.75 115.28,282.00 C116.10,283.25 116.69,284.50 117.51,286.00 C118.33,287.50 119.47,289.00 120.20,291.00 C120.93,293.00 121.28,294.83 121.90,298.00 C122.52,301.17 123.68,306.00 123.90,310.00 C124.12,314.00 124.07,319.08 123.20,322.00 C122.33,324.92 120.45,325.88 118.70,327.50 C116.95,329.12 114.60,331.00 112.70,331.70 C110.80,332.40 108.87,332.40 107.30,331.70 C105.73,331.00 104.47,329.12 103.30,327.50 C102.13,325.88 100.87,324.92 100.30,322.00 C99.73,319.08 99.90,314.00 99.90,310.00 C99.90,306.00 100.10,301.17 100.30,298.00 C100.50,294.83 100.74,293.00 101.10,291.00 C101.46,289.00 101.88,287.50 102.49,286.00 C103.09,284.50 103.93,283.25 104.72,282.00 C105.51,280.75 106.36,279.30 107.22,278.50 C108.09,277.70 109.01,277.20 109.90,277.20Z" fill="url(#mg2)" filter="url(#bm)"/>
<path d="M100.80,301.00 C101.92,299.50 104.97,299.23 107.00,299.00 C109.03,298.77 111.08,299.57 113.00,299.60 C114.92,299.63 116.90,298.80 118.50,299.20 C120.10,299.60 121.78,299.87 122.60,302.00 C123.42,304.13 123.40,308.67 123.40,312.00 C123.40,315.33 123.67,319.55 122.60,322.00 C121.53,324.45 119.10,325.88 117.00,326.70 C114.90,327.52 112.25,327.12 110.00,326.90 C107.75,326.68 105.08,326.88 103.50,325.40 C101.92,323.92 101.03,320.90 100.50,318.00 C99.97,315.10 100.25,310.83 100.30,308.00 C100.35,305.17 99.68,302.50 100.80,301.00Z" fill="#2846c4" filter="url(#bh)" />
<path d="M101.60,301.70 C102.58,300.33 105.10,300.02 107.00,299.80 C108.90,299.58 111.08,300.37 113.00,300.40 C114.92,300.43 117.00,299.60 118.50,300.00 C120.00,300.40 121.28,300.80 122.00,302.80 C122.72,304.80 122.80,308.88 122.80,312.00 C122.80,315.12 122.97,319.18 122.00,321.50 C121.03,323.82 119.00,325.13 117.00,325.90 C115.00,326.67 112.17,326.30 110.00,326.10 C107.83,325.90 105.45,326.05 104.00,324.70 C102.55,323.35 101.78,320.78 101.30,318.00 C100.82,315.22 101.05,310.72 101.10,308.00 C101.15,305.28 100.62,303.07 101.60,301.70Z" fill="#6cc844" filter="url(#bh)" />
<path d="M102.10,302.40 C103.00,301.17 105.18,300.80 107.00,300.60 C108.82,300.40 111.08,301.17 113.00,301.20 C114.92,301.23 117.08,300.42 118.50,300.80 C119.92,301.18 120.88,301.63 121.50,303.50 C122.12,305.37 122.22,309.12 122.20,312.00 C122.18,314.88 122.27,318.63 121.40,320.80 C120.53,322.97 118.90,324.27 117.00,325.00 C115.10,325.73 112.12,325.40 110.00,325.20 C107.88,325.00 105.67,325.00 104.30,323.80 C102.93,322.60 102.25,320.63 101.80,318.00 C101.35,315.37 101.55,310.60 101.60,308.00 C101.65,305.40 101.20,303.63 102.10,302.40Z" fill="#e6dc28" filter="url(#bh)" />
<path d="M102.50,303.00 C103.37,301.88 105.80,301.47 107.30,301.30 C108.80,301.13 110.30,301.30 111.50,302.00 C112.70,302.70 113.33,305.50 114.50,305.50 C115.67,305.50 117.38,302.17 118.50,302.00 C119.62,301.83 120.67,302.83 121.20,304.50 C121.73,306.17 121.75,309.38 121.70,312.00 C121.65,314.62 121.68,318.17 120.90,320.20 C120.12,322.23 118.65,323.73 117.00,324.20 C115.35,324.67 112.42,324.03 111.00,323.00 C109.58,321.97 109.33,318.08 108.50,318.00 C107.67,317.92 107.02,322.50 106.00,322.50 C104.98,322.50 103.05,320.42 102.40,318.00 C101.75,315.58 102.08,310.50 102.10,308.00 C102.12,305.50 101.63,304.12 102.50,303.00Z" fill="#e4261e" filter="url(#bh)" />
<ellipse cx="113.2" cy="303.6" rx="3.60" ry="2.00" fill="#6cc844" filter="url(#bh)"/>
<ellipse cx="113.2" cy="303.6" rx="1.58" ry="0.88" fill="#40c4b0" filter="url(#bh)"/>
<ellipse cx="106.0" cy="318.5" rx="3.20" ry="4.40" fill="#6cc844" filter="url(#bh)"/>
<ellipse cx="106.0" cy="318.5" rx="1.77" ry="2.43" fill="#40c4b0" filter="url(#bh)"/>
<ellipse cx="106.0" cy="318.5" rx="1.10" ry="1.51" fill="#e6dc28" filter="url(#bh)"/>
<ellipse cx="108.6" cy="313.0" rx="1.60" ry="1.60" fill="#e6dc28" filter="url(#bh)"/>
<ellipse cx="108.6" cy="313.0" rx="0.70" ry="0.70" fill="#6cc844" filter="url(#bh)"/>
<ellipse cx="104.0" cy="312.5" rx="1.20" ry="1.40" fill="#e6dc28" filter="url(#bh)"/>
<path d="M111,326.5 L111,331.7" stroke="#c8c8c8" stroke-width="1.4" filter="url(#bm)"/>
</g>
<line x1="70.6" y1="275.7" x2="70.6" y2="331.7" stroke="#3a3a3a" stroke-width="0.6"/>
<line x1="97.4" y1="275.7" x2="97.4" y2="331.7" stroke="#909090" stroke-width="0.7"/>
<linearGradient id="cg216" x1="0" y1="1" x2="0" y2="0"><stop offset="0" stop-color="#2a1a8c"/><stop offset="0.12" stop-color="#1f3fd6"/><stop offset="0.3" stop-color="#1a9af0"/><stop offset="0.45" stop-color="#30c0a0"/><stop offset="0.6" stop-color="#50c040"/><stop offset="0.75" stop-color="#e8e020"/><stop offset="0.88" stop-color="#f08020"/><stop offset="1" stop-color="#e02020"/></linearGradient>
<rect x="216.6" y="37.0" width="4.099999999999994" height="97.4" fill="url(#cg216)"/>
<line x1="220.7" y1="44.9" x2="222.5" y2="44.9" stroke="#555" stroke-width="0.5"/>
<text x="225.7" y="47.4" font-size="6.3999999999999995" fill="#2a2a2a" textLength="13.6" lengthAdjust="spacingAndGlyphs">6000</text>
<line x1="220.7" y1="77.3" x2="222.5" y2="77.3" stroke="#555" stroke-width="0.5"/>
<text x="225.7" y="79.8" font-size="6.3999999999999995" fill="#2a2a2a" textLength="13.6" lengthAdjust="spacingAndGlyphs">4000</text>
<line x1="220.7" y1="108.6" x2="222.5" y2="108.6" stroke="#555" stroke-width="0.5"/>
<text x="225.7" y="111.1" font-size="6.3999999999999995" fill="#2a2a2a" textLength="13.6" lengthAdjust="spacingAndGlyphs">2000</text>
<line x1="220.7" y1="37.00" x2="221.6" y2="37.00" stroke="#777" stroke-width="0.35"/>
<line x1="220.7" y1="41.87" x2="221.6" y2="41.87" stroke="#777" stroke-width="0.35"/>
<line x1="220.7" y1="46.74" x2="221.6" y2="46.74" stroke="#777" stroke-width="0.35"/>
<line x1="220.7" y1="51.61" x2="221.6" y2="51.61" stroke="#777" stroke-width="0.35"/>
<line x1="220.7" y1="56.48" x2="221.6" y2="56.48" stroke="#777" stroke-width="0.35"/>
<line x1="220.7" y1="61.35" x2="221.6" y2="61.35" stroke="#777" stroke-width="0.35"/>
<line x1="220.7" y1="66.22" x2="221.6" y2="66.22" stroke="#777" stroke-width="0.35"/>
<line x1="220.7" y1="71.09" x2="221.6" y2="71.09" stroke="#777" stroke-width="0.35"/>
<line x1="220.7" y1="75.96" x2="221.6" y2="75.96" stroke="#777" stroke-width="0.35"/>
<line x1="220.7" y1="80.83" x2="221.6" y2="80.83" stroke="#777" stroke-width="0.35"/>
<line x1="220.7" y1="85.70" x2="221.6" y2="85.70" stroke="#777" stroke-width="0.35"/>
<line x1="220.7" y1="90.57" x2="221.6" y2="90.57" stroke="#777" stroke-width="0.35"/>
<line x1="220.7" y1="95.44" x2="221.6" y2="95.44" stroke="#777" stroke-width="0.35"/>
<line x1="220.7" y1="100.31" x2="221.6" y2="100.31" stroke="#777" stroke-width="0.35"/>
<line x1="220.7" y1="105.18" x2="221.6" y2="105.18" stroke="#777" stroke-width="0.35"/>
<line x1="220.7" y1="110.05" x2="221.6" y2="110.05" stroke="#777" stroke-width="0.35"/>
<line x1="220.7" y1="114.92" x2="221.6" y2="114.92" stroke="#777" stroke-width="0.35"/>
<line x1="220.7" y1="119.79" x2="221.6" y2="119.79" stroke="#777" stroke-width="0.35"/>
<line x1="220.7" y1="124.66" x2="221.6" y2="124.66" stroke="#777" stroke-width="0.35"/>
<line x1="220.7" y1="129.53" x2="221.6" y2="129.53" stroke="#777" stroke-width="0.35"/>
<line x1="220.7" y1="134.40" x2="221.6" y2="134.40" stroke="#777" stroke-width="0.35"/>
<text x="217.0" y="34.8" font-size="6.6" fill="#2a2a2a" textLength="39.6" lengthAdjust="spacingAndGlyphs">Luminescence</text>
<text x="216.8" y="143.9" font-size="6.3999999999999995" fill="#333">Counts</text>
<rect x="215.5" y="145.1" width="36.80000000000001" height="24.099999999999994" fill="#fff" stroke="#222" stroke-width="0.8"/>
<text x="217.1" y="151.73" font-size="6.7" fill="#222" textLength="31.7" lengthAdjust="spacingAndGlyphs">Color Scale</text>
<text x="217.1" y="159.77" font-size="6.7" fill="#222" textLength="24.2" lengthAdjust="spacingAndGlyphs">Min–334</text>
<text x="217.1" y="167.80" font-size="6.7" fill="#222" textLength="29.1" lengthAdjust="spacingAndGlyphs">Max–6493</text>
<linearGradient id="cg127" x1="0" y1="1" x2="0" y2="0"><stop offset="0" stop-color="#2a1a8c"/><stop offset="0.12" stop-color="#1f3fd6"/><stop offset="0.3" stop-color="#1a9af0"/><stop offset="0.45" stop-color="#30c0a0"/><stop offset="0.6" stop-color="#50c040"/><stop offset="0.75" stop-color="#e8e020"/><stop offset="0.88" stop-color="#f08020"/><stop offset="1" stop-color="#e02020"/></linearGradient>
<rect x="127.2" y="221.7" width="3.8999999999999915" height="97.5" fill="url(#cg127)"/>
<line x1="131.1" y1="228.3" x2="132.9" y2="228.3" stroke="#555" stroke-width="0.5"/>
<text x="134.9" y="230.8" font-size="6.3999999999999995" fill="#2a2a2a" textLength="14.3" lengthAdjust="spacingAndGlyphs">6000</text>
<line x1="131.1" y1="260.2" x2="132.9" y2="260.2" stroke="#555" stroke-width="0.5"/>
<text x="134.9" y="262.7" font-size="6.3999999999999995" fill="#2a2a2a" textLength="14.3" lengthAdjust="spacingAndGlyphs">4000</text>
<line x1="131.1" y1="291.8" x2="132.9" y2="291.8" stroke="#555" stroke-width="0.5"/>
<text x="134.9" y="294.3" font-size="6.3999999999999995" fill="#2a2a2a" textLength="14.3" lengthAdjust="spacingAndGlyphs">2000</text>
<line x1="131.1" y1="221.70" x2="132.0" y2="221.70" stroke="#777" stroke-width="0.35"/>
<line x1="131.1" y1="226.57" x2="132.0" y2="226.57" stroke="#777" stroke-width="0.35"/>
<line x1="131.1" y1="231.45" x2="132.0" y2="231.45" stroke="#777" stroke-width="0.35"/>
<line x1="131.1" y1="236.32" x2="132.0" y2="236.32" stroke="#777" stroke-width="0.35"/>
<line x1="131.1" y1="241.20" x2="132.0" y2="241.20" stroke="#777" stroke-width="0.35"/>
<line x1="131.1" y1="246.07" x2="132.0" y2="246.07" stroke="#777" stroke-width="0.35"/>
<line x1="131.1" y1="250.95" x2="132.0" y2="250.95" stroke="#777" stroke-width="0.35"/>
<line x1="131.1" y1="255.82" x2="132.0" y2="255.82" stroke="#777" stroke-width="0.35"/>
<line x1="131.1" y1="260.70" x2="132.0" y2="260.70" stroke="#777" stroke-width="0.35"/>
<line x1="131.1" y1="265.57" x2="132.0" y2="265.57" stroke="#777" stroke-width="0.35"/>
<line x1="131.1" y1="270.45" x2="132.0" y2="270.45" stroke="#777" stroke-width="0.35"/>
<line x1="131.1" y1="275.32" x2="132.0" y2="275.32" stroke="#777" stroke-width="0.35"/>
<line x1="131.1" y1="280.20" x2="132.0" y2="280.20" stroke="#777" stroke-width="0.35"/>
<line x1="131.1" y1="285.07" x2="132.0" y2="285.07" stroke="#777" stroke-width="0.35"/>
<line x1="131.1" y1="289.95" x2="132.0" y2="289.95" stroke="#777" stroke-width="0.35"/>
<line x1="131.1" y1="294.82" x2="132.0" y2="294.82" stroke="#777" stroke-width="0.35"/>
<line x1="131.1" y1="299.70" x2="132.0" y2="299.70" stroke="#777" stroke-width="0.35"/>
<line x1="131.1" y1="304.57" x2="132.0" y2="304.57" stroke="#777" stroke-width="0.35"/>
<line x1="131.1" y1="309.45" x2="132.0" y2="309.45" stroke="#777" stroke-width="0.35"/>
<line x1="131.1" y1="314.32" x2="132.0" y2="314.32" stroke="#777" stroke-width="0.35"/>
<line x1="131.1" y1="319.20" x2="132.0" y2="319.20" stroke="#777" stroke-width="0.35"/>
<text x="126.8" y="217.8" font-size="6.6" fill="#2a2a2a" textLength="39.2" lengthAdjust="spacingAndGlyphs">Luminescence</text>
<text x="126.0" y="326.8" font-size="6.3999999999999995" fill="#333">Counts</text>
<rect x="126.0" y="328.0" width="34.900000000000006" height="23.5" fill="#fff" stroke="#222" stroke-width="0.8"/>
<text x="127.6" y="334.43" font-size="6.7" fill="#222" textLength="31.7" lengthAdjust="spacingAndGlyphs">Color Scale</text>
<text x="127.6" y="342.27" font-size="6.7" fill="#222" textLength="24.2" lengthAdjust="spacingAndGlyphs">Min–334</text>
<text x="127.6" y="350.10" font-size="6.7" fill="#222" textLength="29.1" lengthAdjust="spacingAndGlyphs">Max–6493</text>
<text x="8.7" y="20.9" font-size="17.8" font-weight="bold" textLength="13.5" lengthAdjust="spacingAndGlyphs" fill="#231f20" text-anchor="start" >A</text>
<text class="t" x="62.7" y="25" font-size="15.4" textLength="37" lengthAdjust="spacingAndGlyphs" fill="#231f20" text-anchor="start" >Day 7</text>
<text class="t" x="152.6" y="25" font-size="15.4" textLength="45.2" lengthAdjust="spacingAndGlyphs" fill="#231f20" text-anchor="start" >Day 25</text>
<text class="t" x="6.8" y="59.9" font-size="12.3" textLength="27.2" lengthAdjust="spacingAndGlyphs" fill="#231f20" text-anchor="start" >Dox–</text>
<text class="t" x="5.0" y="120.7" font-size="12.3" textLength="28.2" lengthAdjust="spacingAndGlyphs" fill="#231f20" text-anchor="start" >Dox+</text>
<text x="265.4" y="20.8" font-size="18" font-weight="bold" textLength="10.6" lengthAdjust="spacingAndGlyphs" fill="#231f20" text-anchor="start" >B</text>
<line x1="308.5" y1="21.2" x2="308.5" y2="145.60000000000002" stroke="#231f20" stroke-width="2.0" />
<line x1="307.5" y1="144.8" x2="502.4" y2="144.8" stroke="#231f20" stroke-width="2.0" />
<line x1="304.0" y1="22.0" x2="308.5" y2="22.0" stroke="#231f20" stroke-width="1.6" />
<line x1="304.0" y1="52.70000000000002" x2="308.5" y2="52.70000000000002" stroke="#231f20" stroke-width="1.6" />
<line x1="304.0" y1="83.4" x2="308.5" y2="83.4" stroke="#231f20" stroke-width="1.6" />
<line x1="304.0" y1="114.10000000000001" x2="308.5" y2="114.10000000000001" stroke="#231f20" stroke-width="1.6" />
<line x1="304.0" y1="144.8" x2="308.5" y2="144.8" stroke="#231f20" stroke-width="1.6" />
<line x1="308.5" y1="144.8" x2="308.5" y2="149.6" stroke="#231f20" stroke-width="1.6" />
<line x1="355.1" y1="144.8" x2="355.1" y2="149.6" stroke="#231f20" stroke-width="1.6" />
<line x1="401.3" y1="144.8" x2="401.3" y2="149.6" stroke="#231f20" stroke-width="1.6" />
<line x1="447.4" y1="144.8" x2="447.4" y2="149.6" stroke="#231f20" stroke-width="1.6" />
<line x1="501.4" y1="144.8" x2="501.4" y2="149.6" stroke="#231f20" stroke-width="1.6" />
<text class="t" x="299.6" y="26.0" font-size="12" textLength="18.4" lengthAdjust="spacingAndGlyphs" fill="#231f20" text-anchor="end" >100</text>
<text class="t" x="299.6" y="87.4" font-size="12" textLength="12.4" lengthAdjust="spacingAndGlyphs" fill="#231f20" text-anchor="end" >50</text>
<text class="t" x="299.6" y="148.8" font-size="12" textLength="6.0" lengthAdjust="spacingAndGlyphs" fill="#231f20" text-anchor="end" >0</text>
<text class="t" x="308.5" y="162.7" font-size="12" textLength="6.0" lengthAdjust="spacingAndGlyphs" fill="#231f20" text-anchor="middle" >0</text>
<text class="t" x="355.1" y="162.7" font-size="12" textLength="12.4" lengthAdjust="spacingAndGlyphs" fill="#231f20" text-anchor="middle" >20</text>
<text class="t" x="401.3" y="162.7" font-size="12" textLength="12.4" lengthAdjust="spacingAndGlyphs" fill="#231f20" text-anchor="middle" >40</text>
<text class="t" x="447.4" y="162.7" font-size="12" textLength="12.4" lengthAdjust="spacingAndGlyphs" fill="#231f20" text-anchor="middle" >60</text>
<text class="t" x="501.4" y="162.7" font-size="12" textLength="12.4" lengthAdjust="spacingAndGlyphs" fill="#231f20" text-anchor="middle" >80</text>
<text class="t" x="341.0" y="178.0" font-size="13.2" textLength="128.6" lengthAdjust="spacingAndGlyphs" fill="#231f20" text-anchor="start" >Days after transplantation</text>
<text class="t" transform="translate(279.4,83.7) rotate(-90)" x="0" y="0" font-size="14" textLength="76.8" lengthAdjust="spacingAndGlyphs" fill="#231f20" text-anchor="middle">Percent survival</text>
<polyline points="309.5,22.0 386.8,22.0 386.8,46.56000000000002 405.5,46.56000000000002 405.5,71.12 412.6,71.12 412.6,95.68 435.6,95.68 435.6,120.24000000000001 458.8,120.24000000000001 458.8,144.8" fill="none" stroke="#c8102e" stroke-width="2.0" stroke-linejoin="miter" stroke-linecap="butt"/>
<polyline points="309.5,22.0 362.1,22.0 362.1,46.56000000000002 366.0,46.56000000000002 366.0,71.12 373.2,71.12 373.2,95.68 378.0,95.68 378.0,120.24000000000001 387.3,120.24000000000001 387.3,144.8" fill="none" stroke="#0e4f8a" stroke-width="2.0" stroke-linejoin="miter" stroke-linecap="butt"/>
<line x1="407.6" y1="22.0" x2="422.4" y2="22.0" stroke="#0e4f8a" stroke-width="2.0" />
<line x1="415.0" y1="19.6" x2="415.0" y2="22.0" stroke="#0e4f8a" stroke-width="1.2" />
<line x1="407.6" y1="38.9" x2="422.4" y2="38.9" stroke="#c8102e" stroke-width="2.0" />
<line x1="415.0" y1="36.5" x2="415.0" y2="38.9" stroke="#c8102e" stroke-width="1.2" />
<text class="t" x="426.7" y="26.3" font-size="11.5" textLength="62.3" lengthAdjust="spacingAndGlyphs" fill="#231f20" text-anchor="start" >Dox– (n = 5)</text>
<text class="t" x="426.8" y="43.2" font-size="11.5" textLength="62.8" lengthAdjust="spacingAndGlyphs" fill="#231f20" text-anchor="start" >Dox+ (n = 5)</text>
<polyline points="493.8,20.6 501.0,20.6 501.0,40.3 493.8,40.3" fill="none" stroke="#231f20" stroke-width="1.7" stroke-linejoin="miter" stroke-linecap="butt"/>
<polygon points="505.70,26.80 506.41,28.63 508.36,28.73 506.84,29.97 507.35,31.87 505.70,30.80 504.05,31.87 504.56,29.97 503.04,28.73 504.99,28.63" fill="#231f20"/>
<polygon points="511.30,26.80 512.01,28.63 513.96,28.73 512.44,29.97 512.95,31.87 511.30,30.80 509.65,31.87 510.16,29.97 508.64,28.73 510.59,28.63" fill="#231f20"/>
<text x="9.2" y="200.4" font-size="18" font-weight="bold" textLength="12.4" lengthAdjust="spacingAndGlyphs" fill="#231f20" text-anchor="start" >C</text>
<text class="t" x="60.4" y="207.5" font-size="15.4" textLength="45.8" lengthAdjust="spacingAndGlyphs" fill="#231f20" text-anchor="start" >Day 25</text>
<text class="t" x="3.7" y="239.6" font-size="12.5" textLength="30.8" lengthAdjust="spacingAndGlyphs" fill="#231f20" text-anchor="start" >shCtrl</text>
<text class="t" x="4.4" y="300.2" font-size="12.5" textLength="30.4" lengthAdjust="spacingAndGlyphs" fill="#231f20" text-anchor="start" >shGG</text>
<text x="178.5" y="202.0" font-size="17" font-weight="bold" textLength="13.4" lengthAdjust="spacingAndGlyphs" fill="#231f20" text-anchor="start" >D</text>
<line x1="222.0" y1="201.2" x2="222.0" y2="327.1" stroke="#231f20" stroke-width="2.0" />
<line x1="221.0" y1="326.3" x2="415.6" y2="326.3" stroke="#231f20" stroke-width="2.0" />
<line x1="217.3" y1="202.0" x2="222.0" y2="202.0" stroke="#231f20" stroke-width="1.6" />
<line x1="217.3" y1="233.07500000000002" x2="222.0" y2="233.07500000000002" stroke="#231f20" stroke-width="1.6" />
<line x1="217.3" y1="264.15" x2="222.0" y2="264.15" stroke="#231f20" stroke-width="1.6" />
<line x1="217.3" y1="295.225" x2="222.0" y2="295.225" stroke="#231f20" stroke-width="1.6" />
<line x1="217.3" y1="326.3" x2="222.0" y2="326.3" stroke="#231f20" stroke-width="1.6" />
<line x1="222.0" y1="326.3" x2="222.0" y2="331.0" stroke="#231f20" stroke-width="1.6" />
<line x1="286.2" y1="326.3" x2="286.2" y2="331.0" stroke="#231f20" stroke-width="1.6" />
<line x1="350.5" y1="326.3" x2="350.5" y2="331.0" stroke="#231f20" stroke-width="1.6" />
<line x1="414.6" y1="326.3" x2="414.6" y2="331.0" stroke="#231f20" stroke-width="1.6" />
<text class="t" x="212.9" y="205.8" font-size="11.5" textLength="18.6" lengthAdjust="spacingAndGlyphs" fill="#231f20" text-anchor="end" >100</text>
<text class="t" x="212.9" y="267.95" font-size="11.5" textLength="12.4" lengthAdjust="spacingAndGlyphs" fill="#231f20" text-anchor="end" >50</text>
<text class="t" x="212.9" y="330.1" font-size="11.5" textLength="6.0" lengthAdjust="spacingAndGlyphs" fill="#231f20" text-anchor="end" >0</text>
<text class="t" x="222.0" y="344.5" font-size="11.5" textLength="6.0" lengthAdjust="spacingAndGlyphs" fill="#231f20" text-anchor="middle" >0</text>
<text class="t" x="286.2" y="344.5" font-size="11.5" textLength="12.4" lengthAdjust="spacingAndGlyphs" fill="#231f20" text-anchor="middle" >20</text>
<text class="t" x="350.5" y="344.5" font-size="11.5" textLength="12.4" lengthAdjust="spacingAndGlyphs" fill="#231f20" text-anchor="middle" >40</text>
<text class="t" x="414.6" y="344.5" font-size="11.5" textLength="12.4" lengthAdjust="spacingAndGlyphs" fill="#231f20" text-anchor="middle" >60</text>
<text class="t" x="254.2" y="358.3" font-size="12.8" textLength="128.8" lengthAdjust="spacingAndGlyphs" fill="#231f20" text-anchor="start" >Days after transplantation</text>
<text class="t" transform="translate(193.4,264.8) rotate(-90)" x="0" y="0" font-size="14" textLength="76" lengthAdjust="spacingAndGlyphs" fill="#231f20" text-anchor="middle">Percent survival</text>
<polyline points="223.0,202.0 287.2,202.0 287.2,226.86 296.9,226.86 296.9,251.72 309.7,251.72 309.7,276.58000000000004 322.0,276.58000000000004 322.0,301.44 330.8,301.44 330.8,326.3" fill="none" stroke="#c8102e" stroke-width="1.7" stroke-linejoin="miter" stroke-linecap="butt"/>
<polyline points="223.0,202.0 318.4,202.0 318.4,226.86 321.4,226.86 321.4,251.72 340.3,251.72 340.3,276.58000000000004 371.8,276.58000000000004 371.8,301.44 384.1,301.44 384.1,326.3" fill="none" stroke="#2e3d52" stroke-width="1.4" stroke-linejoin="miter" stroke-linecap="butt"/>
<line x1="344.9" y1="204.0" x2="359.0" y2="204.0" stroke="#2e3d52" stroke-width="1.6" />
<line x1="352.0" y1="201.8" x2="352.0" y2="204.0" stroke="#2e3d52" stroke-width="1.1" />
<line x1="344.9" y1="220.8" x2="359.0" y2="220.8" stroke="#c8102e" stroke-width="1.6" />
<line x1="352.0" y1="218.6" x2="352.0" y2="220.8" stroke="#c8102e" stroke-width="1.1" />
<text class="t" x="360.4" y="207.6" font-size="11.5" textLength="83.3" lengthAdjust="spacingAndGlyphs" fill="#231f20" text-anchor="start" >shVector (n = 5)</text>
<text class="t" x="360.4" y="224.5" font-size="11.5" textLength="68.5" lengthAdjust="spacingAndGlyphs" fill="#231f20" text-anchor="start" >shGG (n = 5)</text>
<polyline points="446.4,201.3 454.2,201.3 454.2,223.1 446.4,223.1" fill="none" stroke="#231f20" stroke-width="1.8" stroke-linejoin="miter" stroke-linecap="butt"/>
<polygon points="460.40,208.00 461.11,209.83 463.06,209.93 461.54,211.17 462.05,213.07 460.40,212.00 458.75,213.07 459.26,211.17 457.74,209.93 459.69,209.83" fill="#231f20"/>
<text x="9.7" y="384.5" font-size="17" font-weight="bold" textLength="9.6" lengthAdjust="spacingAndGlyphs" fill="#231f20" text-anchor="start" >E</text>
<line x1="49.2" y1="393.59999999999997" x2="49.2" y2="539.3" stroke="#231f20" stroke-width="2.0" />
<line x1="48.2" y1="538.5" x2="163.7" y2="538.5" stroke="#231f20" stroke-width="2.0" />
<line x1="44.6" y1="394.4" x2="49.2" y2="394.4" stroke="#231f20" stroke-width="1.6" />
<text class="t" x="40.3" y="398.2" font-size="11.5" textLength="12.4" lengthAdjust="spacingAndGlyphs" fill="#231f20" text-anchor="end" >30</text>
<line x1="44.6" y1="442.43333333333334" x2="49.2" y2="442.43333333333334" stroke="#231f20" stroke-width="1.6" />
<text class="t" x="40.3" y="446.23333333333335" font-size="11.5" textLength="12.4" lengthAdjust="spacingAndGlyphs" fill="#231f20" text-anchor="end" >20</text>
<line x1="44.6" y1="490.46666666666664" x2="49.2" y2="490.46666666666664" stroke="#231f20" stroke-width="1.6" />
<text class="t" x="40.3" y="494.26666666666665" font-size="11.5" textLength="12.4" lengthAdjust="spacingAndGlyphs" fill="#231f20" text-anchor="end" >10</text>
<line x1="44.6" y1="538.5" x2="49.2" y2="538.5" stroke="#231f20" stroke-width="1.6" />
<text class="t" x="40.3" y="542.3" font-size="11.5" textLength="5.6" lengthAdjust="spacingAndGlyphs" fill="#231f20" text-anchor="end" >0</text>
<line x1="81.5" y1="538.5" x2="81.5" y2="543.4" stroke="#231f20" stroke-width="1.6" />
<line x1="130.5" y1="538.5" x2="130.5" y2="543.4" stroke="#231f20" stroke-width="1.6" />
<text class="t" x="59.2" y="556.6" font-size="11.8" textLength="39.3" lengthAdjust="spacingAndGlyphs" fill="#231f20" text-anchor="start" >Control</text>
<text class="t" x="103.6" y="556.6" font-size="11.8" textLength="58.2" lengthAdjust="spacingAndGlyphs" fill="#231f20" text-anchor="start" >GADD45g</text>
<text class="t" transform="translate(21.0,465.0) rotate(-90)" x="0" y="0" font-size="15.4" fill="#231f20" text-anchor="middle" textLength="139.5" lengthAdjust="spacingAndGlyphs">% hCD45<tspan dy="-5.6" font-size="10.5">+</tspan><tspan dy="5.6"> GFP</tspan><tspan dy="-5.6" font-size="10.5">+</tspan><tspan dy="5.6"> cells in BM</tspan></text>
<polyline points="78.8,408.5 78.8,400.8 133.3,400.8 133.3,409.4" fill="none" stroke="#231f20" stroke-width="1.8" stroke-linejoin="miter" stroke-linecap="butt"/>
<text class="t" x="98.1" y="394.0" font-size="13" textLength="18.2" lengthAdjust="spacingAndGlyphs" fill="#231f20" text-anchor="start" style="stroke:none">NS</text>
<line x1="81.5" y1="415.6" x2="81.5" y2="472.0" stroke="#0e4f8a" stroke-width="1.8" />
<line x1="73.0" y1="415.6" x2="90.0" y2="415.6" stroke="#0e4f8a" stroke-width="1.8" />
<line x1="73.0" y1="472.0" x2="90.0" y2="472.0" stroke="#0e4f8a" stroke-width="1.8" />
<circle cx="81.5" cy="411.5" r="3.1" fill="#0e4f8a"/>
<circle cx="81.5" cy="417.0" r="3.1" fill="#0e4f8a"/>
<circle cx="81.5" cy="448.8" r="3.1" fill="#0e4f8a"/>
<circle cx="81.5" cy="465.5" r="3.1" fill="#0e4f8a"/>
<circle cx="81.5" cy="474.6" r="3.1" fill="#0e4f8a"/>
<line x1="64.4" y1="443.3" x2="98.1" y2="443.3" stroke="#231f20" stroke-width="1.8" />
<line x1="130.4" y1="457.9" x2="130.4" y2="489.2" stroke="#c8102e" stroke-width="1.8" />
<line x1="122.1" y1="457.9" x2="138.8" y2="457.9" stroke="#c8102e" stroke-width="1.8" />
<line x1="122.1" y1="489.2" x2="138.8" y2="489.2" stroke="#c8102e" stroke-width="1.8" />
<rect x="127.5" y="452.4" width="5.9" height="5.800000000000011" fill="#c8102e" />
<rect x="127.5" y="461.0" width="5.9" height="5.800000000000011" fill="#c8102e" />
<rect x="127.5" y="469.8" width="5.9" height="6.199999999999989" fill="#c8102e" />
<rect x="127.5" y="476.0" width="5.9" height="6.0" fill="#c8102e" />
<rect x="127.5" y="492.9" width="5.9" height="5.900000000000034" fill="#c8102e" />
<line x1="113.8" y1="472.7" x2="146.7" y2="472.7" stroke="#231f20" stroke-width="1.8" />
<text x="168.5" y="387.1" font-size="17" font-weight="bold" textLength="9.9" lengthAdjust="spacingAndGlyphs" fill="#231f20" text-anchor="start" >F</text>
<line x1="210.6" y1="394.59999999999997" x2="210.6" y2="540.4" stroke="#231f20" stroke-width="2.0" />
<line x1="209.6" y1="539.6" x2="325.2" y2="539.6" stroke="#231f20" stroke-width="2.0" />
<line x1="205.8" y1="395.4" x2="210.6" y2="395.4" stroke="#231f20" stroke-width="1.6" />
<text class="t" x="201.0" y="399.2" font-size="11.5" textLength="12.4" lengthAdjust="spacingAndGlyphs" fill="#231f20" text-anchor="end" >20</text>
<line x1="205.8" y1="431.45" x2="210.6" y2="431.45" stroke="#231f20" stroke-width="1.6" />
<text class="t" x="201.0" y="435.25" font-size="11.5" textLength="12.4" lengthAdjust="spacingAndGlyphs" fill="#231f20" text-anchor="end" >15</text>
<line x1="205.8" y1="467.5" x2="210.6" y2="467.5" stroke="#231f20" stroke-width="1.6" />
<text class="t" x="201.0" y="471.3" font-size="11.5" textLength="12.4" lengthAdjust="spacingAndGlyphs" fill="#231f20" text-anchor="end" >10</text>
<line x1="205.8" y1="503.55" x2="210.6" y2="503.55" stroke="#231f20" stroke-width="1.6" />
<text class="t" x="201.0" y="507.35" font-size="11.5" textLength="5.6" lengthAdjust="spacingAndGlyphs" fill="#231f20" text-anchor="end" >5</text>
<line x1="205.8" y1="539.6" x2="210.6" y2="539.6" stroke="#231f20" stroke-width="1.6" />
<text class="t" x="201.0" y="543.4" font-size="11.5" textLength="5.6" lengthAdjust="spacingAndGlyphs" fill="#231f20" text-anchor="end" >0</text>
<line x1="236.9" y1="539.6" x2="236.9" y2="544.5" stroke="#231f20" stroke-width="1.6" />
<line x1="296.9" y1="539.6" x2="296.9" y2="544.5" stroke="#231f20" stroke-width="1.6" />
<text class="t" x="221.5" y="557.0" font-size="11.8" textLength="30.2" lengthAdjust="spacingAndGlyphs" fill="#231f20" text-anchor="start" >CD19</text>
<text class="t" x="281.5" y="557.0" font-size="11.8" textLength="30.3" lengthAdjust="spacingAndGlyphs" fill="#231f20" text-anchor="start" >CD33</text>
<text class="t" transform="translate(184.0,467.9) rotate(-90)" x="0" y="0" font-size="15.4" fill="#231f20" text-anchor="middle" textLength="139.6" lengthAdjust="spacingAndGlyphs">% hCD45<tspan dy="-5.6" font-size="10.5">+</tspan><tspan dy="5.6"> GFP</tspan><tspan dy="-5.6" font-size="10.5">+</tspan><tspan dy="5.6"> cells in BM</tspan></text>
<rect x="218.7" y="494.2" width="14.600000000000023" height="45.400000000000034" fill="#0e4f8a" />
<rect x="217.7" y="493.59999999999997" width="16.600000000000023" height="1.8" fill="#0e4f8a" />
<line x1="226.0" y1="479.8" x2="226.0" y2="494.2" stroke="#0e4f8a" stroke-width="1.3" />
<line x1="222.65" y1="479.8" x2="229.35" y2="479.8" stroke="#0e4f8a" stroke-width="1.6" />
<rect x="241.0" y="497.5" width="15.199999999999989" height="42.10000000000002" fill="#c8102e" />
<rect x="240.0" y="496.9" width="17.19999999999999" height="1.8" fill="#c8102e" />
<line x1="248.6" y1="482.1" x2="248.6" y2="497.5" stroke="#c8102e" stroke-width="1.3" />
<line x1="245.25" y1="482.1" x2="251.95" y2="482.1" stroke="#c8102e" stroke-width="1.6" />
<rect x="278.8" y="477.3" width="14.099999999999966" height="62.30000000000001" fill="#0e4f8a" />
<rect x="277.8" y="476.7" width="16.099999999999966" height="1.8" fill="#0e4f8a" />
<line x1="285.85" y1="435.0" x2="285.85" y2="477.3" stroke="#0e4f8a" stroke-width="1.3" />
<line x1="282.6" y1="435.0" x2="289.1" y2="435.0" stroke="#0e4f8a" stroke-width="1.6" />
<rect x="301.3" y="470.2" width="14.099999999999966" height="69.40000000000003" fill="#c8102e" />
<rect x="300.3" y="469.59999999999997" width="16.099999999999966" height="1.8" fill="#c8102e" />
<line x1="308.35" y1="446.5" x2="308.35" y2="470.2" stroke="#c8102e" stroke-width="1.3" />
<line x1="304.8" y1="446.5" x2="311.90000000000003" y2="446.5" stroke="#c8102e" stroke-width="1.6" />
<polyline points="219.8,470.8 219.8,462.5 252.3,462.5 252.3,470.8" fill="none" stroke="#231f20" stroke-width="1.8" stroke-linejoin="miter" stroke-linecap="butt"/>
<text class="t" x="226.5" y="457.5" font-size="13" textLength="18.2" lengthAdjust="spacingAndGlyphs" fill="#231f20" text-anchor="start" style="stroke:none">NS</text>
<polyline points="284.4,431.5 284.4,423.1 308.5,423.1 308.5,431.5" fill="none" stroke="#231f20" stroke-width="1.8" stroke-linejoin="miter" stroke-linecap="butt"/>
<text class="t" x="288.8" y="418.7" font-size="13" textLength="18.0" lengthAdjust="spacingAndGlyphs" fill="#231f20" text-anchor="start" style="stroke:none">NS</text>
<rect x="214.0" y="379.9" width="19.099999999999994" height="1.5" fill="#0e4f8a" />
<rect x="215.7" y="379.9" width="16.199999999999996" height="8.200000000000012" fill="#0e4f8a" />
<rect x="231.0" y="387.5" width="1.3" height="2.2" fill="#0e4f8a" />
<rect x="214.0" y="394.0" width="19.099999999999994" height="1.5" fill="#c8102e" />
<rect x="215.7" y="394.0" width="16.199999999999996" height="7.599999999999989" fill="#c8102e" />
<rect x="231.0" y="401.0" width="1.3" height="2.2" fill="#c8102e" />
<text class="t" x="237.2" y="388.3" font-size="11.8" textLength="37.2" lengthAdjust="spacingAndGlyphs" fill="#231f20" text-anchor="start" >Control</text>
<text class="t" x="237.2" y="401.1" font-size="11.8" textLength="52.6" lengthAdjust="spacingAndGlyphs" fill="#231f20" text-anchor="start" >GADD45g</text>
<text x="339.0" y="386.0" font-size="17.6" font-weight="bold" textLength="13.6" lengthAdjust="spacingAndGlyphs" fill="#231f20" text-anchor="start" >G</text>
<line x1="381.0" y1="393.2" x2="381.0" y2="539.1999999999999" stroke="#231f20" stroke-width="2.0" />
<line x1="380.0" y1="538.4" x2="495.8" y2="538.4" stroke="#231f20" stroke-width="2.0" />
<line x1="376.4" y1="394.0" x2="381.0" y2="394.0" stroke="#231f20" stroke-width="1.6" />
<text class="t" x="372.0" y="397.8" font-size="11.5" textLength="11.7" lengthAdjust="spacingAndGlyphs" fill="#231f20" text-anchor="end" >10</text>
<line x1="376.4" y1="422.88" x2="381.0" y2="422.88" stroke="#231f20" stroke-width="1.6" />
<text class="t" x="372.0" y="426.68" font-size="11.5" textLength="5.8" lengthAdjust="spacingAndGlyphs" fill="#231f20" text-anchor="end" >8</text>
<line x1="376.4" y1="451.76" x2="381.0" y2="451.76" stroke="#231f20" stroke-width="1.6" />
<text class="t" x="372.0" y="455.56" font-size="11.5" textLength="5.8" lengthAdjust="spacingAndGlyphs" fill="#231f20" text-anchor="end" >6</text>
<line x1="376.4" y1="480.64" x2="381.0" y2="480.64" stroke="#231f20" stroke-width="1.6" />
<text class="t" x="372.0" y="484.44" font-size="11.5" textLength="5.8" lengthAdjust="spacingAndGlyphs" fill="#231f20" text-anchor="end" >4</text>
<line x1="376.4" y1="509.52" x2="381.0" y2="509.52" stroke="#231f20" stroke-width="1.6" />
<text class="t" x="372.0" y="513.3199999999999" font-size="11.5" textLength="5.8" lengthAdjust="spacingAndGlyphs" fill="#231f20" text-anchor="end" >2</text>
<line x1="376.4" y1="538.4" x2="381.0" y2="538.4" stroke="#231f20" stroke-width="1.6" />
<text class="t" x="372.0" y="542.1999999999999" font-size="11.5" textLength="5.8" lengthAdjust="spacingAndGlyphs" fill="#231f20" text-anchor="end" >0</text>
<line x1="402.7" y1="538.4" x2="402.7" y2="543.3" stroke="#231f20" stroke-width="1.6" />
<line x1="435.7" y1="538.4" x2="435.7" y2="543.3" stroke="#231f20" stroke-width="1.6" />
<text class="t" x="395.9" y="556.9" font-size="11.8" textLength="44.5" lengthAdjust="spacingAndGlyphs" fill="#231f20" text-anchor="start" >CD235a</text>
<text class="t" transform="translate(353.2,466.8) rotate(-90)" x="0" y="0" font-size="15.4" fill="#231f20" text-anchor="middle" textLength="135" lengthAdjust="spacingAndGlyphs">% hCD45·GFP<tspan dy="-5.6" font-size="10.5">+</tspan><tspan dy="5.6"> cells in BM</tspan></text>
<rect x="392.7" y="441.5" width="21.69999999999999" height="96.89999999999998" fill="#0e4f8a" />
<rect x="391.7" y="440.9" width="23.69999999999999" height="1.8" fill="#0e4f8a" />
<line x1="403.54999999999995" y1="406.5" x2="403.54999999999995" y2="441.5" stroke="#0e4f8a" stroke-width="1.3" />
<line x1="397.94999999999993" y1="406.5" x2="409.15" y2="406.5" stroke="#0e4f8a" stroke-width="1.6" />
<rect x="425.2" y="460.4" width="22.0" height="78.0" fill="#c8102e" />
<rect x="424.2" y="459.79999999999995" width="24.0" height="1.8" fill="#c8102e" />
<line x1="436.2" y1="434.8" x2="436.2" y2="460.4" stroke="#c8102e" stroke-width="1.3" />
<line x1="430.95" y1="434.8" x2="441.45" y2="434.8" stroke="#c8102e" stroke-width="1.6" />
<polyline points="402.7,403.7 402.7,395.6 434.4,395.6 434.4,404.6" fill="none" stroke="#231f20" stroke-width="1.8" stroke-linejoin="miter" stroke-linecap="butt"/>
<text class="t" x="408.8" y="391.5" font-size="13" textLength="18.3" lengthAdjust="spacingAndGlyphs" fill="#231f20" text-anchor="start" style="stroke:none">NS</text>
<rect x="440.4" y="392.0" width="18.600000000000023" height="1.5" fill="#0e4f8a" />
<rect x="442.09999999999997" y="392.0" width="15.700000000000022" height="7.9" fill="#0e4f8a" />
<rect x="456.9" y="399.3" width="1.3" height="2.2" fill="#0e4f8a" />
<rect x="440.4" y="406.0" width="18.600000000000023" height="1.5" fill="#c8102e" />
<rect x="442.09999999999997" y="406.0" width="15.700000000000022" height="7.700000000000012" fill="#c8102e" />
<rect x="456.9" y="413.1" width="1.3" height="2.2" fill="#c8102e" />
<text class="t" x="463.3" y="400.8" font-size="11.8" textLength="36.5" lengthAdjust="spacingAndGlyphs" fill="#231f20" text-anchor="start" >Control</text>
<text class="t" x="463.3" y="413.8" font-size="11.8" textLength="51.5" lengthAdjust="spacingAndGlyphs" fill="#231f20" text-anchor="start" >GADD45g</text>
</svg>
<div id="frame"></div>
</div>
</body></html>
